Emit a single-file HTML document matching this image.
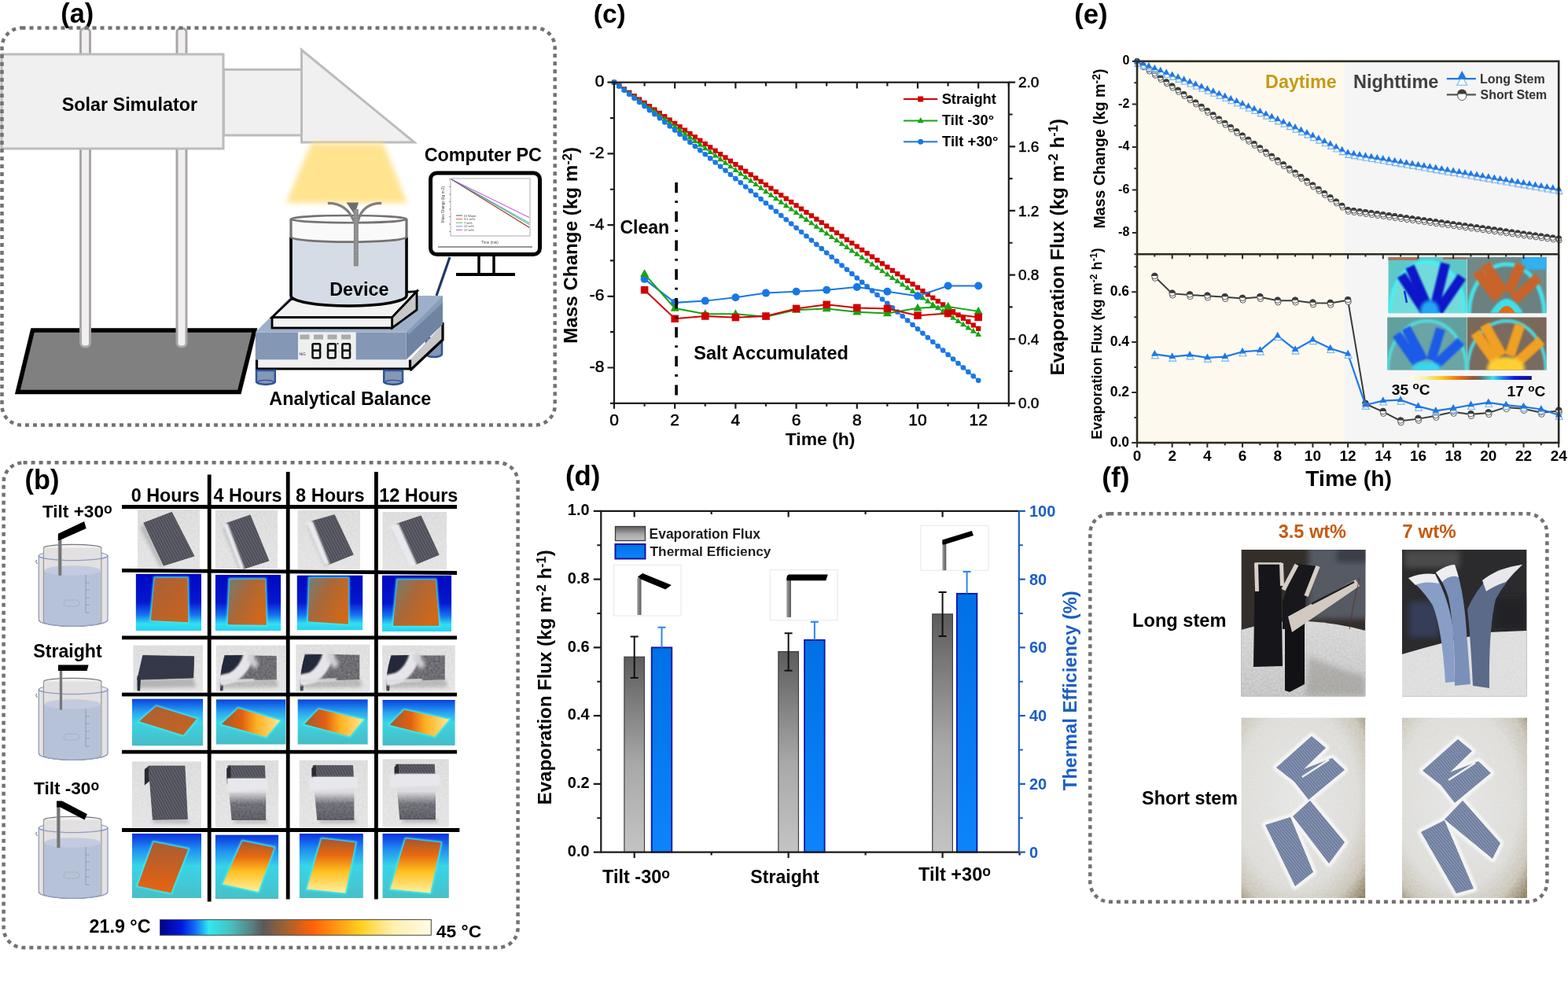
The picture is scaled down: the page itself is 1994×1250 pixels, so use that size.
<!DOCTYPE html>
<html><head><meta charset="utf-8"><title>Figure</title>
<style>html,body{margin:0;padding:0;background:#fff;} svg{display:block;} text{font-family:'Liberation Sans', Arial, sans-serif;}</style>
</head><body>
<svg width="1994" height="1250" viewBox="0 0 1994 1250">
<rect width="1994" height="1250" fill="#fff"/>
<defs>
<filter id="blur4" x="-20%" y="-20%" width="140%" height="140%"><feGaussianBlur stdDeviation="3.5"/></filter>
<filter id="blur1" x="-50%" y="-50%" width="200%" height="200%"><feGaussianBlur stdDeviation="1"/></filter>
<filter id="blur2" x="-50%" y="-50%" width="200%" height="200%"><feGaussianBlur stdDeviation="2"/></filter>

<linearGradient id="gbar" x1="0" y1="0" x2="0" y2="1"><stop offset="0" stop-color="#5c5c5c"/><stop offset="0.55" stop-color="#a8a8a8"/><stop offset="1" stop-color="#c4c4c4"/></linearGradient>
<linearGradient id="bbar" x1="0" y1="0" x2="0" y2="1"><stop offset="0" stop-color="#0070e6"/><stop offset="1" stop-color="#0d84fa"/></linearGradient>
<linearGradient id="stem" x1="0" y1="0" x2="1" y2="0"><stop offset="0" stop-color="#a0a0a0"/><stop offset="1" stop-color="#5a5a5a"/></linearGradient>

<linearGradient id="cbar2" x1="0" y1="0" x2="1" y2="0">
<stop offset="0" stop-color="#fffbe0"/><stop offset="0.12" stop-color="#faf0b0"/><stop offset="0.25" stop-color="#f8d020"/><stop offset="0.4" stop-color="#f07010"/>
<stop offset="0.52" stop-color="#905840"/><stop offset="0.58" stop-color="#607070"/><stop offset="0.68" stop-color="#40e4ec"/><stop offset="0.76" stop-color="#2080f0"/>
<stop offset="0.86" stop-color="#0a18e8"/><stop offset="1" stop-color="#101080"/></linearGradient>

<linearGradient id="foam" x1="0" y1="0" x2="0" y2="1"><stop offset="0" stop-color="#d9d9d9"/><stop offset="1" stop-color="#e2e2e2"/></linearGradient>
<filter id="noise" x="0" y="0" width="100%" height="100%"><feTurbulence type="fractalNoise" baseFrequency="0.35" numOctaves="2" seed="3"/><feColorMatrix type="matrix" values="0 0 0 0 0.85  0 0 0 0 0.85  0 0 0 0 0.86  0 0 0 -1.6 1.25"/></filter>
<pattern id="stripes" width="3.2" height="10" patternUnits="userSpaceOnUse" patternTransform="rotate(-28)"><rect width="3.2" height="10" fill="#4e4e58"/><rect width="1" height="10" fill="#6a6a74"/></pattern>
<linearGradient id="tb1" x1="0" y1="0" x2="0" y2="1"><stop offset="0" stop-color="#0008c0"/><stop offset="0.5" stop-color="#0418d0"/><stop offset="0.72" stop-color="#1870f0"/><stop offset="0.88" stop-color="#30e0f0"/><stop offset="1" stop-color="#2ad0f0"/></linearGradient>
<linearGradient id="tb2" x1="0" y1="0" x2="0" y2="1"><stop offset="0" stop-color="#0a40e0"/><stop offset="0.3" stop-color="#2aa8f0"/><stop offset="0.5" stop-color="#3cd4e4"/><stop offset="1" stop-color="#46bcc6"/></linearGradient>
<linearGradient id="tb3" x1="0" y1="0" x2="0" y2="1"><stop offset="0" stop-color="#0a30e0"/><stop offset="0.25" stop-color="#2090f0"/><stop offset="0.5" stop-color="#38d4e8"/><stop offset="1" stop-color="#48c0c8"/></linearGradient>
<linearGradient id="or1" x1="0" y1="0" x2="1" y2="1"><stop offset="0" stop-color="#a86038"/><stop offset="1" stop-color="#c8641e"/></linearGradient>
<linearGradient id="or2" x1="0" y1="0" x2="1" y2="0.6"><stop offset="0" stop-color="#708078"/><stop offset="0.45" stop-color="#a8683a"/><stop offset="1" stop-color="#d06818"/></linearGradient>
<linearGradient id="or3" x1="0" y1="0" x2="1" y2="0"><stop offset="0" stop-color="#a05a30"/><stop offset="0.35" stop-color="#e06010"/><stop offset="0.6" stop-color="#ffb020"/><stop offset="1" stop-color="#ffe890"/></linearGradient>
<linearGradient id="or4" x1="0" y1="0" x2="0" y2="1"><stop offset="0" stop-color="#a85c34"/><stop offset="1" stop-color="#e86410"/></linearGradient>
<linearGradient id="or5" x1="0" y1="0" x2="0" y2="1"><stop offset="0" stop-color="#a05830"/><stop offset="0.3" stop-color="#e86810"/><stop offset="0.6" stop-color="#ffc020"/><stop offset="1" stop-color="#fff0a0"/></linearGradient>
<linearGradient id="stem2" x1="0" y1="0" x2="1" y2="0"><stop offset="0" stop-color="#9a9a9a"/><stop offset="0.5" stop-color="#6a6a6a"/><stop offset="1" stop-color="#8a8a8a"/></linearGradient>
<linearGradient id="cbar1" x1="0" y1="0" x2="1" y2="0">
<stop offset="0" stop-color="#00008c"/><stop offset="0.08" stop-color="#0018e0"/><stop offset="0.13" stop-color="#1070f8"/><stop offset="0.18" stop-color="#30e8f0"/><stop offset="0.26" stop-color="#48c0c0"/>
<stop offset="0.34" stop-color="#5a8080"/><stop offset="0.38" stop-color="#5a5a5a"/><stop offset="0.46" stop-color="#a06030"/><stop offset="0.56" stop-color="#ff6008"/><stop offset="0.64" stop-color="#ff9010"/>
<stop offset="0.74" stop-color="#ffd020"/><stop offset="0.86" stop-color="#fff0b0"/><stop offset="1" stop-color="#fffbe4"/></linearGradient>

<linearGradient id="foamf" x1="0" y1="0" x2="0" y2="1"><stop offset="0" stop-color="#d4d4d4"/><stop offset="1" stop-color="#bdbdbd"/></linearGradient>
<radialGradient id="vign" cx="0.45" cy="0.45" r="0.75"><stop offset="0" stop-color="#e6e6e4"/><stop offset="0.65" stop-color="#dddcd8"/><stop offset="0.85" stop-color="#c8c2b4"/><stop offset="1" stop-color="#8a7a5a"/></radialGradient>
<pattern id="bstripe" width="3" height="10" patternUnits="userSpaceOnUse" patternTransform="rotate(-40)"><rect width="3" height="10" fill="#6e7c9c"/><rect width="1.1" height="10" fill="#8c9ab8"/></pattern>

<filter id="noise2" x="0" y="0" width="100%" height="100%"><feTurbulence type="fractalNoise" baseFrequency="0.35" numOctaves="2" seed="5"/><feColorMatrix type="matrix" values="0 0 0 0 0.85  0 0 0 0 0.85  0 0 0 0 0.86  0 0 0 -1.6 1.25"/><feComposite in2="SourceGraphic" operator="in"/></filter>
<linearGradient id="saltgrad1" x1="0" y1="0" x2="0" y2="1"><stop offset="0" stop-color="#e6e6ea"/><stop offset="0.32" stop-color="#dcdce0"/><stop offset="0.6" stop-color="#66666e"/><stop offset="1" stop-color="#505058"/></linearGradient><linearGradient id="saltgrad2" x1="0" y1="0" x2="0" y2="1"><stop offset="0" stop-color="#e6e6ea"/><stop offset="0.35" stop-color="#dcdce0"/><stop offset="0.62" stop-color="#66666e"/><stop offset="1" stop-color="#505058"/></linearGradient><linearGradient id="saltgrad3" x1="0" y1="0" x2="0" y2="1"><stop offset="0" stop-color="#e6e6ea"/><stop offset="0.38" stop-color="#dcdce0"/><stop offset="0.66" stop-color="#66666e"/><stop offset="1" stop-color="#505058"/></linearGradient></defs>
<text x="77.28" y="28.80" font-size="34.31" font-weight="bold" fill="#000" >(a)</text>
<polygon points="41.5,420 323.8,420 304.3,498.6 22.4,498.6" fill="#808080" stroke="#000" stroke-width="5.5" stroke-linejoin="miter"/>
<rect x="102.5" y="36" width="12" height="405" rx="5" fill="#f0f0f0" stroke="#aaa6a4" stroke-width="3"/>
<rect x="225.0" y="36" width="12" height="405" rx="5" fill="#f0f0f0" stroke="#aaa6a4" stroke-width="3"/>
<rect x="2" y="69" width="282" height="120" fill="#f0f0f0" stroke="#bcbcbc" stroke-width="3"/>
<rect x="284.5" y="88.5" width="99" height="83.5" fill="#f0f0f0" stroke="#bcbcbc" stroke-width="3"/>
<polygon points="383.5,63.5 383.5,181 527,181" fill="#f0f0f0" stroke="#bcbcbc" stroke-width="3" stroke-linejoin="miter"/>
<text x="78.80" y="140.60" font-size="23.32" font-weight="bold" fill="#000" >Solar Simulator</text>
<polygon points="396,182 487,182 518,258 364,258" fill="#ffe38f" filter="url(#blur4)"/>
<line x1="572" y1="327" x2="555" y2="376" stroke="#1f3864" stroke-width="3.2"/>
<rect x="547.5" y="220" width="139" height="103.5" rx="8" fill="#fff" stroke="#000" stroke-width="5"/>
<line x1="609" y1="326" x2="609" y2="347" stroke="#000" stroke-width="3.5"/>
<line x1="628" y1="326" x2="628" y2="347" stroke="#000" stroke-width="3.5"/>
<line x1="580" y1="349" x2="655" y2="349" stroke="#000" stroke-width="4"/>
<rect x="573" y="227" width="101" height="73" fill="#fff" stroke="#9a9a9a" stroke-width="0.8"/>
<line x1="557" y1="314" x2="677" y2="314" stroke="#333" stroke-width="1"/>
<line x1="574" y1="228" x2="673" y2="289" stroke="#333" stroke-width="0.9"/>
<line x1="574" y1="228" x2="673" y2="289.5" stroke="#e03030" stroke-width="0.9"/>
<line x1="574" y1="228" x2="673" y2="285.5" stroke="#20b030" stroke-width="0.9"/>
<line x1="574" y1="228" x2="673" y2="283.5" stroke="#2a8ad8" stroke-width="0.9"/>
<line x1="574" y1="228" x2="673" y2="276.5" stroke="#c030c0" stroke-width="0.9"/>
<line x1="571" y1="228.0" x2="573" y2="228.0" stroke="#555" stroke-width="0.6"/>
<line x1="571" y1="237.5" x2="573" y2="237.5" stroke="#555" stroke-width="0.6"/>
<line x1="571" y1="247.0" x2="573" y2="247.0" stroke="#555" stroke-width="0.6"/>
<line x1="571" y1="256.5" x2="573" y2="256.5" stroke="#555" stroke-width="0.6"/>
<line x1="571" y1="266.0" x2="573" y2="266.0" stroke="#555" stroke-width="0.6"/>
<line x1="571" y1="275.5" x2="573" y2="275.5" stroke="#555" stroke-width="0.6"/>
<line x1="571" y1="285.0" x2="573" y2="285.0" stroke="#555" stroke-width="0.6"/>
<line x1="571" y1="294.5" x2="573" y2="294.5" stroke="#555" stroke-width="0.6"/>
<text x="569" y="264" font-size="4.5" fill="#444" transform="rotate(-90 565 264)" text-anchor="middle">Mass Change (kg m-2)</text>
<text x="623" y="310" font-size="4.5" fill="#444" text-anchor="middle">Time (min)</text>
<line x1="580" y1="274.0" x2="588" y2="274.0" stroke="#333" stroke-width="0.8"/>
<text x="590" y="275.5" font-size="4" fill="#444">DI Water</text>
<line x1="580" y1="278.6" x2="588" y2="278.6" stroke="#e03030" stroke-width="0.8"/>
<text x="590" y="280.1" font-size="4" fill="#444">3.5 wt%</text>
<line x1="580" y1="283.2" x2="588" y2="283.2" stroke="#20b030" stroke-width="0.8"/>
<text x="590" y="284.7" font-size="4" fill="#444">7 wt%</text>
<line x1="580" y1="287.8" x2="588" y2="287.8" stroke="#2a8ad8" stroke-width="0.8"/>
<text x="590" y="289.3" font-size="4" fill="#444">12 wt%</text>
<line x1="580" y1="292.4" x2="588" y2="292.4" stroke="#c030c0" stroke-width="0.8"/>
<text x="590" y="293.9" font-size="4" fill="#444">17 wt%</text>
<text x="539.66" y="204.80" font-size="23.39" font-weight="bold" fill="#000" >Computer PC</text>
<path d="M542,430 L542,450 A10,4 0 0 0 562,450 L562,430 Z" fill="#8497b5" stroke="#2f5597" stroke-width="2.5"/>
<polygon points="521.5,457.6 563,412.6 563,432 521.5,471" fill="#c8c8c8"/>
<polyline points="563,410 563,432 521.5,471" fill="none" stroke="#000" stroke-width="3.2"/>
<polygon points="324.8,422.6 370.8,376 563,376 516.6,422.6" fill="#9eb0c9"/>
<polygon points="516.6,422.6 563,376 563,412.6 516.6,457.6" fill="#6f84a3"/>
<polygon points="516.6,422.6 563,376 563,385 520,425" fill="#94a8c4" opacity="0.7"/>
<rect x="324.8" y="422.6" width="191.8" height="35" fill="#8497b5"/>
<path d="M326.5,457.6 L326.5,469 L521.5,469 L521.5,457.6" fill="#f0f0f0" stroke="#000" stroke-width="3.2"/>
<path d="M326.0,471 L326.0,486 A12.5,4.2 0 0 0 349.8,486 L349.8,471 Z" fill="#8497b5" stroke="#2f5597" stroke-width="2.5"/>
<ellipse cx="337.90000000000003" cy="486" rx="10" ry="2.6" fill="none" stroke="#2f5597" stroke-width="1.2"/>
<path d="M488.2,471 L488.2,486 A12.5,4.2 0 0 0 512,486 L512,471 Z" fill="#8497b5" stroke="#2f5597" stroke-width="2.5"/>
<ellipse cx="500.1" cy="486" rx="10" ry="2.6" fill="none" stroke="#2f5597" stroke-width="1.2"/>
<rect x="379" y="422.4" width="73.7" height="36" fill="#eef0ef"/>
<rect x="397.5" y="437.2" width="9.6" height="8.6" rx="1.5" fill="none" stroke="#111" stroke-width="2.6"/>
<rect x="397.5" y="445.8" width="9.6" height="9.4" rx="1.5" fill="none" stroke="#111" stroke-width="2.6"/>
<rect x="417.0" y="437.2" width="9.6" height="8.6" rx="1.5" fill="none" stroke="#111" stroke-width="2.6"/>
<rect x="417.0" y="445.8" width="9.6" height="9.4" rx="1.5" fill="none" stroke="#111" stroke-width="2.6"/>
<rect x="435.4" y="437.2" width="9.6" height="8.6" rx="1.5" fill="none" stroke="#111" stroke-width="2.6"/>
<rect x="435.4" y="445.8" width="9.6" height="9.4" rx="1.5" fill="none" stroke="#111" stroke-width="2.6"/>
<circle cx="429.5" cy="437" r="1" fill="#111"/>
<rect x="381.5" y="425.5" width="12" height="6" fill="#a8acab"/>
<rect x="399.0" y="425.5" width="12" height="6" fill="#a8acab"/>
<rect x="416.5" y="425.5" width="12" height="6" fill="#a8acab"/>
<rect x="434.0" y="425.5" width="12" height="6" fill="#a8acab"/>
<text x="380.5" y="452" font-size="4.5" fill="#333">hkG</text>
<polygon points="370,380.5 530,370.5 498.6,403.6 346,403.6" fill="#f2f2f2" stroke="#000" stroke-width="2.8" stroke-linejoin="miter"/>
<polygon points="498.6,403.6 530,370.5 530,394 498.6,417" fill="#c8c8c8" stroke="#000" stroke-width="2.8"/>
<rect x="346" y="403.6" width="152.6" height="13.4" fill="#f2f2f2" stroke="#000" stroke-width="2.8"/>
<path d="M370,278.5 L370,376 A73.5,13 0 0 0 517,376 L517,278.5 Z" fill="#d6dce5"/>
<path d="M370,278.5 L370,301.6 A73.5,6 0 0 0 517,301.6 L517,278.5 Z" fill="#fafafa"/>
<path d="M370,301.6 L370,376 A73.5,13 0 0 0 517,376 L517,301.6" fill="none" stroke="#000" stroke-width="3.6"/>
<path d="M370,301.6 L370,278.5 M517,278.5 L517,301.6" fill="none" stroke="#767171" stroke-width="3.2"/>
<path d="M370,301.6 A73.5,6 0 0 0 517,301.6" fill="none" stroke="#767171" stroke-width="2.6"/>
<ellipse cx="443.5" cy="278.6" rx="73.5" ry="4.6" fill="none" stroke="#767171" stroke-width="2.6"/>
<path d="M416.8,258.4 Q440,258 449.5,280 L455.5,280 Q462,258 485.2,258.4" fill="none" stroke="#7f7f7f" stroke-width="3.2"/>
<polygon points="440.5,257.5 456,257.5 451,273" fill="#6d6d6d"/>
<rect x="449.8" y="266" width="6" height="72.5" fill="#8a8a8a"/>
<line x1="452.8" y1="268" x2="452.8" y2="337" stroke="#a8a8a8" stroke-width="1.2" stroke-dasharray="2 1.5"/>
<text x="419.29" y="375.50" font-size="23.30" font-weight="bold" fill="#000" >Device</text>
<text x="342.32" y="514.50" font-size="23.32" font-weight="bold" fill="#000" >Analytical Balance</text>
<rect x="2.5" y="35.5" width="703.2" height="505.0" rx="25" ry="25" fill="none" stroke="#767171" stroke-width="4.5" stroke-dasharray="5 5"/>
<text x="31.58" y="622.47" font-size="34.32" font-weight="bold" fill="#000" >(b)</text>
<text x="166.66" y="637.90" font-size="23.38" font-weight="bold" fill="#000" >0 Hours</text>
<text x="271.55" y="637.90" font-size="23.38" font-weight="bold" fill="#000" >4 Hours</text>
<text x="376.09" y="637.90" font-size="23.51" font-weight="bold" fill="#000" >8 Hours</text>
<text x="482.19" y="637.90" font-size="23.42" font-weight="bold" fill="#000" >12 Hours</text>
<clipPath id="cb1"><rect x="174.9" y="647.6" width="79.20" height="75.30"/></clipPath><g clip-path="url(#cb1)"><rect x="174.9" y="647.6" width="79.20" height="75.30" fill="url(#foam)"/><rect x="174.9" y="647.6" width="79.20" height="75.30" fill="#d6d6d6" filter="url(#noise)" opacity="0.55"/><polygon points="178.86,672.45 204.20,721.39 208.16,719.13 182.82,664.92" fill="#b4b4b4" filter="url(#blur2)"/><polygon points="182.82,664.92 218.46,651.37 246.97,707.09 208.16,719.13" fill="url(#stripes)" stroke="#4a4a52" stroke-width="0.8"/></g>
<clipPath id="cb2"><rect x="273.7" y="649" width="79.40" height="74.50"/></clipPath><g clip-path="url(#cb2)"><rect x="273.7" y="649" width="79.40" height="74.50" fill="url(#foam)"/><rect x="273.7" y="649" width="79.40" height="74.50" fill="#d6d6d6" filter="url(#noise)" opacity="0.55"/><polygon points="284.02,672.84 305.46,725.74 309.43,723.50 287.99,665.39" fill="#b4b4b4" filter="url(#blur2)"/><polygon points="287.99,665.39 318.16,654.96 341.98,713.07 309.43,723.50" fill="url(#stripes)" stroke="#4a4a52" stroke-width="0.8"/><polygon points="284.02,666.88 289.58,665.39 311.02,723.50 305.46,723.50" fill="#e8eaee" filter="url(#blur1)"/></g>
<clipPath id="cb3"><rect x="378.4" y="648.6" width="79.60" height="75.40"/></clipPath><g clip-path="url(#cb3)"><rect x="378.4" y="648.6" width="79.60" height="75.40" fill="url(#foam)"/><rect x="378.4" y="648.6" width="79.60" height="75.40" fill="#d6d6d6" filter="url(#noise)" opacity="0.55"/><polygon points="391.93,670.47 413.42,720.23 417.40,717.97 395.91,662.93" fill="#b4b4b4" filter="url(#blur2)"/><polygon points="395.91,662.93 425.36,654.63 449.24,705.15 417.40,717.97" fill="url(#stripes)" stroke="#4a4a52" stroke-width="0.8"/><polygon points="389.54,664.43 397.50,662.17 419.79,718.72 411.83,716.46" fill="#e8eaee" filter="url(#blur1)"/></g>
<clipPath id="cb4"><rect x="486.3" y="650.8" width="81.70" height="73.80"/></clipPath><g clip-path="url(#cb4)"><rect x="486.3" y="650.8" width="81.70" height="73.80" fill="url(#foam)"/><rect x="486.3" y="650.8" width="81.70" height="73.80" fill="#d6d6d6" filter="url(#noise)" opacity="0.55"/><polygon points="500.19,673.68 523.88,720.17 527.97,717.96 504.27,666.30" fill="#b4b4b4" filter="url(#blur2)"/><polygon points="504.27,666.30 535.32,655.97 558.20,705.41 527.97,717.96" fill="url(#stripes)" stroke="#4a4a52" stroke-width="0.8"/><polygon points="496.10,668.51 506.73,665.56 530.42,718.70 521.43,721.65" fill="#e8eaee" filter="url(#blur1)"/></g>
<clipPath id="cb5"><rect x="172.6" y="729.6" width="83.40" height="72.40"/></clipPath><g clip-path="url(#cb5)"><rect x="172.6" y="729.6" width="83.40" height="72.40" fill="url(#tb1)"/><polygon points="196.79,734.67 238.49,734.67 239.32,791.14 191.78,788.97" fill="none" stroke="#40f0f0" stroke-width="3" filter="url(#blur1)"/><polygon points="196.79,734.67 238.49,734.67 239.32,791.14 191.78,788.97" fill="url(#or1)"/></g>
<clipPath id="cb6"><rect x="273.7" y="730.7" width="83.50" height="71.30"/></clipPath><g clip-path="url(#cb6)"><rect x="273.7" y="730.7" width="83.50" height="71.30" fill="url(#tb1)"/><polygon points="292.07,736.40 337.16,736.40 338.83,794.87 289.56,794.16" fill="none" stroke="#40f0f0" stroke-width="3" filter="url(#blur1)"/><polygon points="292.07,736.40 337.16,736.40 338.83,794.87 289.56,794.16" fill="url(#or2)"/></g>
<clipPath id="cb7"><rect x="377.5" y="731.4" width="83.90" height="70.00"/></clipPath><g clip-path="url(#cb7)"><rect x="377.5" y="731.4" width="83.90" height="70.00" fill="url(#tb1)"/><polygon points="393.44,734.90 442.94,734.90 442.94,793.70 391.76,790.20" fill="none" stroke="#40f0f0" stroke-width="3" filter="url(#blur1)"/><polygon points="393.44,734.90 442.94,734.90 442.94,793.70 391.76,790.20" fill="url(#or2)"/></g>
<clipPath id="cb8"><rect x="485.8" y="731.4" width="88.50" height="71.60"/></clipPath><g clip-path="url(#cb8)"><rect x="485.8" y="731.4" width="88.50" height="71.60" fill="url(#tb1)"/><polygon points="505.27,737.13 553.94,737.13 558.37,795.84 499.96,795.84" fill="none" stroke="#40f0f0" stroke-width="3" filter="url(#blur1)"/><polygon points="505.27,737.13 553.94,737.13 558.37,795.84 499.96,795.84" fill="url(#or2)"/></g>
<clipPath id="cb9"><rect x="169.2" y="820.5" width="89.10" height="59.20"/></clipPath><g clip-path="url(#cb9)"><rect x="169.2" y="820.5" width="89.10" height="59.20" fill="url(#foam)"/><rect x="169.2" y="820.5" width="89.10" height="59.20" fill="#d6d6d6" filter="url(#noise)" opacity="0.55"/><polygon points="174.55,864.31 245.83,861.94 249.39,873.78 174.55,874.96" fill="#b4b4b4" filter="url(#blur2)"/><polygon points="181.67,833.52 246.72,834.71 245.83,861.94 174.55,864.31" fill="url(#stripes)" stroke="#4a4a52" stroke-width="0.8"/><polygon points="174.55,859.57 179.00,861.94 178.11,878.52 174.55,878.52" fill="#2a2c36"/><polygon points="181.67,833.52 246.72,834.71 245.83,861.94 174.55,864.31" fill="#2e3244" opacity="0.85"/></g>
<clipPath id="cb10"><rect x="274.6" y="820.5" width="88.70" height="59.20"/></clipPath><g clip-path="url(#cb10)"><rect x="274.6" y="820.5" width="88.70" height="59.20" fill="url(#foam)"/><rect x="274.6" y="820.5" width="88.70" height="59.20" fill="#d6d6d6" filter="url(#noise)" opacity="0.55"/><polygon points="279.92,864.31 350.88,861.94 354.43,873.78 279.92,874.96" fill="#b4b4b4" filter="url(#blur2)"/><polygon points="274.60,820.50 274.60,820.50 274.60,820.50" fill="url(#stripes)" stroke="#4a4a52" stroke-width="0.8"/><polygon points="279.92,859.57 284.36,861.94 283.47,878.52 279.92,878.52" fill="#2a2c36"/><polygon points="285.24,832.93 351.77,834.12 351.77,864.31 279.04,865.49" fill="#5e5e64"/><rect x="274.6" y="820.5" width="88.70" height="59.20" fill="#888" filter="url(#noise)" opacity="0.25"/><path d="M286.13,833.52 L310.97,832.93 Q307.42,850.10 294.11,859.57 L279.92,864.31 Q281.70,844.18 286.13,833.52 Z" fill="#23283a"/><path d="M316.29,832.34 Q310.97,853.06 294.11,861.94 L279.04,865.49" fill="none" stroke="#e6e6ea" stroke-width="13.30" filter="url(#blur1)"/><path d="M318.06,832.34 Q321.61,844.18 326.93,847.14" fill="none" stroke="#d0d0d4" stroke-width="8.87" filter="url(#blur2)"/><path d="M279.04,866.68 L323.38,864.31" stroke="#dcdce0" stroke-width="3.5" filter="url(#blur1)"/></g>
<clipPath id="cb11"><rect x="376.1" y="819.4" width="94.40" height="60.30"/></clipPath><g clip-path="url(#cb11)"><rect x="376.1" y="819.4" width="94.40" height="60.30" fill="url(#foam)"/><rect x="376.1" y="819.4" width="94.40" height="60.30" fill="#d6d6d6" filter="url(#noise)" opacity="0.55"/><polygon points="381.76,864.02 457.28,861.61 461.06,873.67 381.76,874.88" fill="#b4b4b4" filter="url(#blur2)"/><polygon points="376.10,819.40 376.10,819.40 376.10,819.40" fill="url(#stripes)" stroke="#4a4a52" stroke-width="0.8"/><polygon points="381.76,859.20 386.48,861.61 385.54,878.49 381.76,878.49" fill="#2a2c36"/><polygon points="387.43,831.46 457.28,832.67 457.28,864.02 380.82,866.43" fill="#5e5e64"/><rect x="376.1" y="819.4" width="94.40" height="60.30" fill="#888" filter="url(#noise)" opacity="0.25"/><path d="M388.37,832.67 L411.97,832.06 Q408.20,849.55 396.87,859.20 L381.76,864.02 Q383.65,843.52 388.37,832.67 Z" fill="#23283a"/><path d="M417.64,831.46 Q411.97,852.57 396.87,861.61 L380.82,865.23" fill="none" stroke="#e6e6ea" stroke-width="14.16" filter="url(#blur1)"/><path d="M419.52,831.46 Q423.30,843.52 428.96,846.53" fill="none" stroke="#d0d0d4" stroke-width="9.44" filter="url(#blur2)"/><path d="M380.82,866.43 L428.02,864.02" stroke="#dcdce0" stroke-width="3.5" filter="url(#blur1)"/></g>
<clipPath id="cb12"><rect x="485.8" y="820.5" width="93.00" height="59.20"/></clipPath><g clip-path="url(#cb12)"><rect x="485.8" y="820.5" width="93.00" height="59.20" fill="url(#foam)"/><rect x="485.8" y="820.5" width="93.00" height="59.20" fill="#d6d6d6" filter="url(#noise)" opacity="0.55"/><polygon points="491.38,864.31 565.78,861.94 569.50,873.78 491.38,874.96" fill="#b4b4b4" filter="url(#blur2)"/><polygon points="485.80,820.50 485.80,820.50 485.80,820.50" fill="url(#stripes)" stroke="#4a4a52" stroke-width="0.8"/><polygon points="491.38,859.57 496.03,861.94 495.10,878.52 491.38,878.52" fill="#2a2c36"/><polygon points="496.96,833.52 565.78,833.52 565.78,864.31 490.45,866.68" fill="#5e5e64"/><rect x="485.8" y="820.5" width="93.00" height="59.20" fill="#888" filter="url(#noise)" opacity="0.25"/><path d="M497.89,833.52 L522.07,832.93 Q518.35,850.10 506.26,859.57 L491.38,864.31 Q493.24,844.18 497.89,833.52 Z" fill="#23283a"/><path d="M527.65,832.34 Q522.07,853.06 506.26,861.94 L490.45,865.49" fill="none" stroke="#e6e6ea" stroke-width="13.95" filter="url(#blur1)"/><path d="M529.51,832.34 Q533.23,844.18 538.81,847.14" fill="none" stroke="#d0d0d4" stroke-width="9.30" filter="url(#blur2)"/><path d="M490.45,866.68 L536.95,864.31" stroke="#dcdce0" stroke-width="3.5" filter="url(#blur1)"/></g>
<clipPath id="cb13"><rect x="168" y="888.5" width="90.30" height="60.00"/></clipPath><g clip-path="url(#cb13)"><rect x="168" y="888.5" width="90.30" height="60.00" fill="url(#tb2)"/><polygon points="198.70,898.10 250.17,914.30 233.02,934.70 177.03,917.30" fill="none" stroke="#40f0f0" stroke-width="3" filter="url(#blur1)"/><polygon points="198.70,898.10 250.17,914.30 233.02,934.70 177.03,917.30" fill="url(#or1)"/></g>
<clipPath id="cb14"><rect x="274.6" y="889.2" width="88.70" height="57.50"/></clipPath><g clip-path="url(#cb14)"><rect x="274.6" y="889.2" width="88.70" height="57.50" fill="url(#tb2)"/><polygon points="302.98,900.70 356.20,916.23 338.46,936.93 281.70,920.83" fill="none" stroke="#40f0f0" stroke-width="3" filter="url(#blur1)"/><polygon points="302.98,900.70 356.20,916.23 338.46,936.93 281.70,920.83" fill="url(#or3)"/></g>
<clipPath id="cb15"><rect x="378.4" y="889.2" width="89.40" height="57.50"/></clipPath><g clip-path="url(#cb15)"><rect x="378.4" y="889.2" width="89.40" height="57.50" fill="url(#tb2)"/><polygon points="405.22,901.85 462.44,915.08 444.56,936.35 387.34,920.83" fill="none" stroke="#40f0f0" stroke-width="3" filter="url(#blur1)"/><polygon points="405.22,901.85 462.44,915.08 444.56,936.35 387.34,920.83" fill="url(#or3)"/></g>
<clipPath id="cb16"><rect x="486.3" y="889.9" width="92.50" height="58.00"/></clipPath><g clip-path="url(#cb16)"><rect x="486.3" y="889.9" width="92.50" height="58.00" fill="url(#tb2)"/><polygon points="514.05,902.66 571.40,914.84 552.90,936.30 495.55,921.80" fill="none" stroke="#40f0f0" stroke-width="3" filter="url(#blur1)"/><polygon points="514.05,902.66 571.40,914.84 552.90,936.30 495.55,921.80" fill="url(#or3)"/></g>
<clipPath id="cb17"><rect x="168" y="968.2" width="88.00" height="84.20"/></clipPath><g clip-path="url(#cb17)"><rect x="168" y="968.2" width="88.00" height="84.20" fill="url(#foam)"/><rect x="168" y="968.2" width="88.00" height="84.20" fill="#d6d6d6" filter="url(#noise)" opacity="0.55"/><polygon points="194.40,1042.30 238.40,1041.45 241.92,1046.51 194.40,1046.51" fill="#b4b4b4" filter="url(#blur2)"/><polygon points="189.12,974.09 234.88,974.09 238.40,1041.45 194.40,1042.30" fill="url(#stripes)" stroke="#4a4a52" stroke-width="0.8"/><polygon points="183.84,978.30 189.12,974.09 190.00,993.46 183.84,998.51" fill="#2a2a30"/></g>
<clipPath id="cb18"><rect x="273.7" y="967" width="80.50" height="85.40"/></clipPath><g clip-path="url(#cb18)"><rect x="273.7" y="967" width="80.50" height="85.40" fill="url(#foam)"/><rect x="273.7" y="967" width="80.50" height="85.40" fill="#d6d6d6" filter="url(#noise)" opacity="0.55"/><polygon points="297.85,1042.15 338.10,1041.30 341.32,1046.42 297.85,1046.42" fill="#b4b4b4" filter="url(#blur2)"/><polygon points="289.80,973.83 336.49,973.83 337.30,991.77 289.80,991.77" fill="url(#stripes)" stroke="#4a4a52" stroke-width="0.8"/><polygon points="288.19,977.25 293.02,972.98 293.82,992.62 288.19,997.74" fill="#2a2a30"/><polygon points="289.80,990.06 338.10,990.06 338.10,1043.01 294.63,1043.01" fill="url(#saltgrad1)"/><rect x="273.7" y="1011.41" width="80.50" height="34.16" fill="#999" filter="url(#noise)" opacity="0.2"/><polygon points="288.19,990.06 339.71,990.06 341.32,1003.72 288.19,1007.14" fill="#e8e8ec" filter="url(#blur1)"/></g>
<clipPath id="cb19"><rect x="380.6" y="966.6" width="87.20" height="85.80"/></clipPath><g clip-path="url(#cb19)"><rect x="380.6" y="966.6" width="87.20" height="85.80" fill="url(#foam)"/><rect x="380.6" y="966.6" width="87.20" height="85.80" fill="#d6d6d6" filter="url(#noise)" opacity="0.55"/><polygon points="406.76,1042.10 450.36,1041.25 453.85,1046.39 406.76,1046.39" fill="#b4b4b4" filter="url(#blur2)"/><polygon points="398.04,973.46 448.62,973.46 449.49,989.77 398.04,989.77" fill="url(#stripes)" stroke="#4a4a52" stroke-width="0.8"/><polygon points="396.30,976.90 401.53,972.61 402.40,992.34 396.30,997.49" fill="#2a2a30"/><polygon points="398.04,988.05 450.36,988.05 450.36,1042.96 403.27,1042.96" fill="url(#saltgrad2)"/><rect x="380.6" y="1009.50" width="87.20" height="34.32" fill="#999" filter="url(#noise)" opacity="0.2"/><polygon points="392.81,988.05 453.85,988.05 455.59,1001.78 392.81,1005.21" fill="#e8e8ec" filter="url(#blur1)"/></g>
<clipPath id="cb20"><rect x="486.3" y="965.2" width="84.60" height="86.50"/></clipPath><g clip-path="url(#cb20)"><rect x="486.3" y="965.2" width="84.60" height="86.50" fill="url(#foam)"/><rect x="486.3" y="965.2" width="84.60" height="86.50" fill="#d6d6d6" filter="url(#noise)" opacity="0.55"/><polygon points="511.68,1041.32 553.98,1040.45 557.36,1045.64 511.68,1045.64" fill="#b4b4b4" filter="url(#blur2)"/><polygon points="503.22,972.12 552.29,972.12 553.13,985.96 503.22,985.96" fill="url(#stripes)" stroke="#4a4a52" stroke-width="0.8"/><polygon points="501.53,975.58 506.60,971.25 507.45,991.15 501.53,996.34" fill="#2a2a30"/><polygon points="503.22,984.23 553.98,984.23 553.98,1042.18 508.30,1042.18" fill="url(#saltgrad3)"/><rect x="486.3" y="1005.86" width="84.60" height="34.60" fill="#999" filter="url(#noise)" opacity="0.2"/><polygon points="495.61,984.23 558.63,984.23 560.33,998.07 495.61,1001.53" fill="#e8e8ec" filter="url(#blur1)"/></g>
<clipPath id="cb21"><rect x="168" y="1060" width="88.00" height="82.00"/></clipPath><g clip-path="url(#cb21)"><rect x="168" y="1060" width="88.00" height="82.00" fill="url(#tb3)"/><polygon points="195.28,1070.66 239.28,1079.68 217.28,1135.44 175.04,1126.42" fill="none" stroke="#40f0f0" stroke-width="3" filter="url(#blur1)"/><polygon points="195.28,1070.66 239.28,1079.68 217.28,1135.44 175.04,1126.42" fill="url(#or4)"/></g>
<clipPath id="cb22"><rect x="273.7" y="1061.4" width="80.50" height="81.60"/></clipPath><g clip-path="url(#cb22)"><rect x="273.7" y="1061.4" width="80.50" height="81.60" fill="url(#tb3)"/><polygon points="308.31,1069.56 348.56,1077.72 328.44,1134.02 283.36,1124.23" fill="none" stroke="#40f0f0" stroke-width="3" filter="url(#blur1)"/><polygon points="308.31,1069.56 348.56,1077.72 328.44,1134.02 283.36,1124.23" fill="url(#or5)"/></g>
<clipPath id="cb23"><rect x="380.6" y="1060" width="81.30" height="82.00"/></clipPath><g clip-path="url(#cb23)"><rect x="380.6" y="1060" width="81.30" height="82.00" fill="url(#tb3)"/><polygon points="409.06,1066.56 452.14,1071.48 439.14,1135.44 390.36,1130.52" fill="none" stroke="#40f0f0" stroke-width="3" filter="url(#blur1)"/><polygon points="409.06,1066.56 452.14,1071.48 439.14,1135.44 390.36,1130.52" fill="url(#or5)"/></g>
<clipPath id="cb24"><rect x="486.3" y="1060" width="84.60" height="82.00"/></clipPath><g clip-path="url(#cb24)"><rect x="486.3" y="1060" width="84.60" height="82.00" fill="url(#tb3)"/><polygon points="515.91,1066.56 560.75,1071.48 547.21,1135.44 496.45,1130.52" fill="none" stroke="#40f0f0" stroke-width="3" filter="url(#blur1)"/><polygon points="515.91,1066.56 560.75,1071.48 547.21,1135.44 496.45,1130.52" fill="url(#or5)"/></g>
<path d="M266.2,603.4 V1146.5 M366.2,600 V1143.5 M478.4,600 V1143.5 M155,644.5 H581 M155,810.8 H581 M155,956.2 H581 M155,883.2 H581 M155,1055.5 H584.4" stroke="#000" stroke-width="4.8" fill="none"/>
<path d="M155,725.3 L581,728.5" stroke="#000" stroke-width="4.8" fill="none"/>
<text x="53.9" y="657.7" font-size="22.6" font-weight="bold">Tilt +30<tspan font-size="17.5" dy="-5.2">o</tspan></text>
<text x="42.31" y="836.30" font-size="23.13" font-weight="bold" fill="#000" >Straight</text>
<text x="43" y="1010" font-size="22.6" font-weight="bold">Tilt -30<tspan font-size="17.5" dy="-5.2">o</tspan></text>
<path d="M49.3,706.7 L49.3,788.3 A43.85,8 0 0 0 137,788.3 L137,706.7 Z" fill="#e4e2e2" stroke="#8e9cc2" stroke-width="1.3"/>
<ellipse cx="93.15" cy="706.7" rx="43.85" ry="6" fill="#ebebeb" stroke="#8e9cc2" stroke-width="1.3"/>
<ellipse cx="92.15" cy="696.8" rx="36.75" ry="4.4" fill="#f0f0f0" stroke="#777" stroke-width="1.2"/>
<path d="M55.4,696.8 L55.4,790 A36.75,6.5 0 0 0 128.9,790 L128.9,696.8" fill="#e2e0e0" stroke="#8a8a8a" stroke-width="1"/>
<path d="M56,725.5 L56,790 A36.2,6.5 0 0 0 128.4,790 L128.4,725.5 Z" fill="#b6c2d8"/>
<ellipse cx="92.2" cy="725.5" rx="36.2" ry="6.2" fill="#c4cbe0"/>
<path d="M49.3,706.7 A43.85,6 0 0 0 137,706.7" fill="none" stroke="#8e9cc2" stroke-width="1.3"/>
<path d="M49.3,788.3 A43.85,8 0 0 0 137,788.3" fill="none" stroke="#8e9cc2" stroke-width="1.3"/>
<path d="M46.5,712 q-2,3 1,5" fill="none" stroke="#666" stroke-width="1"/>
<path d="M109,731 V779 M109,741 h5 M109,750 h5 M109,760 h5 M109,769 h5 M109,779 h5" stroke="#8a93a8" stroke-width="0.8" fill="none"/>
<rect x="81" y="763" width="20" height="8" rx="4" fill="none" stroke="#a3abc0" stroke-width="0.8"/>
<rect x="73.8" y="684.9" width="4.7" height="46.9" fill="url(#stem2)"/>
<polygon points="73.8,678.8 107.1,663.1 109.6,672 75.8,686.9 73.8,686.9" fill="#000"/>
<path d="M49.3,876.7 L49.3,958.3 A43.85,8 0 0 0 137,958.3 L137,876.7 Z" fill="#e4e2e2" stroke="#8e9cc2" stroke-width="1.3"/>
<ellipse cx="93.15" cy="876.7" rx="43.85" ry="6" fill="#ebebeb" stroke="#8e9cc2" stroke-width="1.3"/>
<ellipse cx="92.15" cy="866.8" rx="36.75" ry="4.4" fill="#f0f0f0" stroke="#777" stroke-width="1.2"/>
<path d="M55.4,866.8 L55.4,960 A36.75,6.5 0 0 0 128.9,960 L128.9,866.8" fill="#e2e0e0" stroke="#8a8a8a" stroke-width="1"/>
<path d="M56,895.5 L56,960 A36.2,6.5 0 0 0 128.4,960 L128.4,895.5 Z" fill="#b6c2d8"/>
<ellipse cx="92.2" cy="895.5" rx="36.2" ry="6.2" fill="#c4cbe0"/>
<path d="M49.3,876.7 A43.85,6 0 0 0 137,876.7" fill="none" stroke="#8e9cc2" stroke-width="1.3"/>
<path d="M49.3,958.3 A43.85,8 0 0 0 137,958.3" fill="none" stroke="#8e9cc2" stroke-width="1.3"/>
<path d="M46.5,882 q-2,3 1,5" fill="none" stroke="#666" stroke-width="1"/>
<path d="M109,901 V949 M109,911 h5 M109,920 h5 M109,930 h5 M109,939 h5 M109,949 h5" stroke="#8a93a8" stroke-width="0.8" fill="none"/>
<rect x="81" y="933" width="20" height="8" rx="4" fill="none" stroke="#a3abc0" stroke-width="0.8"/>
<rect x="75.6" y="847" width="3.6" height="55.5" fill="url(#stem2)"/>
<polygon points="74,845.4 112.6,845.4 110.6,853 78.5,853 74,853" fill="#000"/>
<path d="M49.3,1052.7 L49.3,1134.3 A43.85,8 0 0 0 137,1134.3 L137,1052.7 Z" fill="#e4e2e2" stroke="#8e9cc2" stroke-width="1.3"/>
<ellipse cx="93.15" cy="1052.7" rx="43.85" ry="6" fill="#ebebeb" stroke="#8e9cc2" stroke-width="1.3"/>
<ellipse cx="92.15" cy="1042.8" rx="36.75" ry="4.4" fill="#f0f0f0" stroke="#777" stroke-width="1.2"/>
<path d="M55.4,1042.8 L55.4,1136 A36.75,6.5 0 0 0 128.9,1136 L128.9,1042.8" fill="#e2e0e0" stroke="#8a8a8a" stroke-width="1"/>
<path d="M56,1071.5 L56,1136 A36.2,6.5 0 0 0 128.4,1136 L128.4,1071.5 Z" fill="#b6c2d8"/>
<ellipse cx="92.2" cy="1071.5" rx="36.2" ry="6.2" fill="#c4cbe0"/>
<path d="M49.3,1052.7 A43.85,6 0 0 0 137,1052.7" fill="none" stroke="#8e9cc2" stroke-width="1.3"/>
<path d="M49.3,1134.3 A43.85,8 0 0 0 137,1134.3" fill="none" stroke="#8e9cc2" stroke-width="1.3"/>
<path d="M46.5,1058 q-2,3 1,5" fill="none" stroke="#666" stroke-width="1"/>
<path d="M109,1077 V1125 M109,1087 h5 M109,1096 h5 M109,1106 h5 M109,1115 h5 M109,1125 h5" stroke="#8a93a8" stroke-width="0.8" fill="none"/>
<rect x="81" y="1109" width="20" height="8" rx="4" fill="none" stroke="#a3abc0" stroke-width="0.8"/>
<rect x="72" y="1023.5" width="4.6" height="54.5" fill="url(#stem2)"/>
<polygon points="72,1018.4 79,1018.4 110.9,1035.2 107.5,1042.5 76.6,1026.5 72,1026.5" fill="#000"/>
<rect x="203.5" y="1169.4" width="344.8" height="19.8" fill="url(#cbar1)" stroke="#444" stroke-width="1"/>
<text x="113.48" y="1186.30" font-size="23.32" font-weight="bold" fill="#000" >21.9 °C</text>
<text x="554.76" y="1191.50" font-size="22.91" font-weight="bold" fill="#000" >45 °C</text>
<rect x="4.6" y="588.3" width="654.0" height="616.7" rx="25" ry="25" fill="none" stroke="#767171" stroke-width="4.5" stroke-dasharray="5 5"/>
<text x="754.82" y="28.76" font-size="33.51" font-weight="bold" fill="#000" >(c)</text>
<path d="M781.00,104.70 L787.43,109.05 L793.87,113.40 L800.30,117.75 L806.73,122.10 L813.17,126.45 L819.60,130.80 L826.03,135.14 L832.47,139.49 L838.90,143.84 L845.33,148.19 L851.77,152.54 L858.20,156.89 L864.63,161.24 L871.07,165.59 L877.50,169.94 L883.93,174.29 L890.37,178.64 L896.80,182.99 L903.23,187.33 L909.67,191.68 L916.10,196.03 L922.53,200.38 L928.97,204.73 L935.40,209.08 L941.83,213.43 L948.27,217.78 L954.70,222.13 L961.13,226.48 L967.57,230.83 L974.00,235.18 L980.43,239.52 L986.87,243.87 L993.30,248.22 L999.73,252.57 L1006.17,256.92 L1012.60,261.27 L1019.03,265.62 L1025.47,269.97 L1031.90,274.32 L1038.33,278.67 L1044.77,283.02 L1051.20,287.37 L1057.63,291.72 L1064.07,296.06 L1070.50,300.41 L1076.93,304.76 L1083.37,309.11 L1089.80,313.46 L1096.23,317.81 L1102.67,322.16 L1109.10,326.51 L1115.53,330.86 L1121.97,335.21 L1128.40,339.56 L1134.83,343.91 L1141.27,348.25 L1147.70,352.60 L1154.13,356.95 L1160.57,361.30 L1167.00,365.65 L1173.43,370.00 L1179.87,374.35 L1186.30,378.70 L1192.73,383.05 L1199.17,387.40 L1205.60,391.75 L1212.03,396.10 L1218.47,400.44 L1224.90,404.79 L1231.33,409.14 L1237.77,413.49 L1244.20,417.84" fill="none" stroke="#d20000" stroke-width="1.4"/>
<rect x="777.90" y="101.60" width="6.2" height="6.2" fill="#d20000"/>
<rect x="784.33" y="105.95" width="6.2" height="6.2" fill="#d20000"/>
<rect x="790.77" y="110.30" width="6.2" height="6.2" fill="#d20000"/>
<rect x="797.20" y="114.65" width="6.2" height="6.2" fill="#d20000"/>
<rect x="803.63" y="119.00" width="6.2" height="6.2" fill="#d20000"/>
<rect x="810.07" y="123.35" width="6.2" height="6.2" fill="#d20000"/>
<rect x="816.50" y="127.70" width="6.2" height="6.2" fill="#d20000"/>
<rect x="822.93" y="132.04" width="6.2" height="6.2" fill="#d20000"/>
<rect x="829.37" y="136.39" width="6.2" height="6.2" fill="#d20000"/>
<rect x="835.80" y="140.74" width="6.2" height="6.2" fill="#d20000"/>
<rect x="842.23" y="145.09" width="6.2" height="6.2" fill="#d20000"/>
<rect x="848.67" y="149.44" width="6.2" height="6.2" fill="#d20000"/>
<rect x="855.10" y="153.79" width="6.2" height="6.2" fill="#d20000"/>
<rect x="861.53" y="158.14" width="6.2" height="6.2" fill="#d20000"/>
<rect x="867.97" y="162.49" width="6.2" height="6.2" fill="#d20000"/>
<rect x="874.40" y="166.84" width="6.2" height="6.2" fill="#d20000"/>
<rect x="880.83" y="171.19" width="6.2" height="6.2" fill="#d20000"/>
<rect x="887.27" y="175.54" width="6.2" height="6.2" fill="#d20000"/>
<rect x="893.70" y="179.89" width="6.2" height="6.2" fill="#d20000"/>
<rect x="900.13" y="184.23" width="6.2" height="6.2" fill="#d20000"/>
<rect x="906.57" y="188.58" width="6.2" height="6.2" fill="#d20000"/>
<rect x="913.00" y="192.93" width="6.2" height="6.2" fill="#d20000"/>
<rect x="919.43" y="197.28" width="6.2" height="6.2" fill="#d20000"/>
<rect x="925.87" y="201.63" width="6.2" height="6.2" fill="#d20000"/>
<rect x="932.30" y="205.98" width="6.2" height="6.2" fill="#d20000"/>
<rect x="938.73" y="210.33" width="6.2" height="6.2" fill="#d20000"/>
<rect x="945.17" y="214.68" width="6.2" height="6.2" fill="#d20000"/>
<rect x="951.60" y="219.03" width="6.2" height="6.2" fill="#d20000"/>
<rect x="958.03" y="223.38" width="6.2" height="6.2" fill="#d20000"/>
<rect x="964.47" y="227.73" width="6.2" height="6.2" fill="#d20000"/>
<rect x="970.90" y="232.08" width="6.2" height="6.2" fill="#d20000"/>
<rect x="977.33" y="236.42" width="6.2" height="6.2" fill="#d20000"/>
<rect x="983.77" y="240.77" width="6.2" height="6.2" fill="#d20000"/>
<rect x="990.20" y="245.12" width="6.2" height="6.2" fill="#d20000"/>
<rect x="996.63" y="249.47" width="6.2" height="6.2" fill="#d20000"/>
<rect x="1003.07" y="253.82" width="6.2" height="6.2" fill="#d20000"/>
<rect x="1009.50" y="258.17" width="6.2" height="6.2" fill="#d20000"/>
<rect x="1015.93" y="262.52" width="6.2" height="6.2" fill="#d20000"/>
<rect x="1022.37" y="266.87" width="6.2" height="6.2" fill="#d20000"/>
<rect x="1028.80" y="271.22" width="6.2" height="6.2" fill="#d20000"/>
<rect x="1035.23" y="275.57" width="6.2" height="6.2" fill="#d20000"/>
<rect x="1041.67" y="279.92" width="6.2" height="6.2" fill="#d20000"/>
<rect x="1048.10" y="284.27" width="6.2" height="6.2" fill="#d20000"/>
<rect x="1054.53" y="288.62" width="6.2" height="6.2" fill="#d20000"/>
<rect x="1060.97" y="292.96" width="6.2" height="6.2" fill="#d20000"/>
<rect x="1067.40" y="297.31" width="6.2" height="6.2" fill="#d20000"/>
<rect x="1073.83" y="301.66" width="6.2" height="6.2" fill="#d20000"/>
<rect x="1080.27" y="306.01" width="6.2" height="6.2" fill="#d20000"/>
<rect x="1086.70" y="310.36" width="6.2" height="6.2" fill="#d20000"/>
<rect x="1093.13" y="314.71" width="6.2" height="6.2" fill="#d20000"/>
<rect x="1099.57" y="319.06" width="6.2" height="6.2" fill="#d20000"/>
<rect x="1106.00" y="323.41" width="6.2" height="6.2" fill="#d20000"/>
<rect x="1112.43" y="327.76" width="6.2" height="6.2" fill="#d20000"/>
<rect x="1118.87" y="332.11" width="6.2" height="6.2" fill="#d20000"/>
<rect x="1125.30" y="336.46" width="6.2" height="6.2" fill="#d20000"/>
<rect x="1131.73" y="340.81" width="6.2" height="6.2" fill="#d20000"/>
<rect x="1138.17" y="345.15" width="6.2" height="6.2" fill="#d20000"/>
<rect x="1144.60" y="349.50" width="6.2" height="6.2" fill="#d20000"/>
<rect x="1151.03" y="353.85" width="6.2" height="6.2" fill="#d20000"/>
<rect x="1157.47" y="358.20" width="6.2" height="6.2" fill="#d20000"/>
<rect x="1163.90" y="362.55" width="6.2" height="6.2" fill="#d20000"/>
<rect x="1170.33" y="366.90" width="6.2" height="6.2" fill="#d20000"/>
<rect x="1176.77" y="371.25" width="6.2" height="6.2" fill="#d20000"/>
<rect x="1183.20" y="375.60" width="6.2" height="6.2" fill="#d20000"/>
<rect x="1189.63" y="379.95" width="6.2" height="6.2" fill="#d20000"/>
<rect x="1196.07" y="384.30" width="6.2" height="6.2" fill="#d20000"/>
<rect x="1202.50" y="388.65" width="6.2" height="6.2" fill="#d20000"/>
<rect x="1208.93" y="393.00" width="6.2" height="6.2" fill="#d20000"/>
<rect x="1215.37" y="397.34" width="6.2" height="6.2" fill="#d20000"/>
<rect x="1221.80" y="401.69" width="6.2" height="6.2" fill="#d20000"/>
<rect x="1228.23" y="406.04" width="6.2" height="6.2" fill="#d20000"/>
<rect x="1234.67" y="410.39" width="6.2" height="6.2" fill="#d20000"/>
<rect x="1241.10" y="414.74" width="6.2" height="6.2" fill="#d20000"/>
<path d="M781.00,104.70 L787.43,109.39 L793.87,114.08 L800.30,118.77 L806.73,123.46 L813.17,128.14 L819.60,132.83 L826.03,137.51 L832.47,142.19 L838.90,146.86 L845.33,151.53 L851.77,156.20 L858.20,160.86 L864.63,165.51 L871.07,170.17 L877.50,174.81 L883.93,179.45 L890.37,184.08 L896.80,188.70 L903.23,193.32 L909.67,197.93 L916.10,202.53 L922.53,207.13 L928.97,211.71 L935.40,216.29 L941.83,220.86 L948.27,225.41 L954.70,229.96 L961.13,234.50 L967.57,239.03 L974.00,243.55 L980.43,248.06 L986.87,252.56 L993.30,257.05 L999.73,261.53 L1006.17,266.00 L1012.60,270.45 L1019.03,274.90 L1025.47,279.34 L1031.90,283.77 L1038.33,288.18 L1044.77,292.59 L1051.20,296.99 L1057.63,301.37 L1064.07,305.75 L1070.50,310.12 L1076.93,314.48 L1083.37,318.82 L1089.80,323.16 L1096.23,327.49 L1102.67,331.81 L1109.10,336.13 L1115.53,340.43 L1121.97,344.73 L1128.40,349.02 L1134.83,353.30 L1141.27,357.57 L1147.70,361.84 L1154.13,366.10 L1160.57,370.36 L1167.00,374.61 L1173.43,378.85 L1179.87,383.09 L1186.30,387.33 L1192.73,391.56 L1199.17,395.79 L1205.60,400.01 L1212.03,404.24 L1218.47,408.46 L1224.90,412.68 L1231.33,416.89 L1237.77,421.11 L1244.20,425.32" fill="none" stroke="#14a514" stroke-width="1.4"/>
<polygon points="781.00,100.46 784.80,107.30 777.20,107.30" fill="#14a514"/>
<polygon points="787.43,105.15 791.23,111.99 783.63,111.99" fill="#14a514"/>
<polygon points="793.87,109.84 797.67,116.68 790.07,116.68" fill="#14a514"/>
<polygon points="800.30,114.53 804.10,121.37 796.50,121.37" fill="#14a514"/>
<polygon points="806.73,119.22 810.53,126.06 802.93,126.06" fill="#14a514"/>
<polygon points="813.17,123.90 816.97,130.74 809.37,130.74" fill="#14a514"/>
<polygon points="819.60,128.59 823.40,135.43 815.80,135.43" fill="#14a514"/>
<polygon points="826.03,133.27 829.83,140.11 822.23,140.11" fill="#14a514"/>
<polygon points="832.47,137.95 836.27,144.79 828.67,144.79" fill="#14a514"/>
<polygon points="838.90,142.62 842.70,149.46 835.10,149.46" fill="#14a514"/>
<polygon points="845.33,147.29 849.13,154.13 841.53,154.13" fill="#14a514"/>
<polygon points="851.77,151.96 855.57,158.80 847.97,158.80" fill="#14a514"/>
<polygon points="858.20,156.62 862.00,163.46 854.40,163.46" fill="#14a514"/>
<polygon points="864.63,161.27 868.43,168.11 860.83,168.11" fill="#14a514"/>
<polygon points="871.07,165.92 874.87,172.76 867.27,172.76" fill="#14a514"/>
<polygon points="877.50,170.57 881.30,177.41 873.70,177.41" fill="#14a514"/>
<polygon points="883.93,175.21 887.73,182.05 880.13,182.05" fill="#14a514"/>
<polygon points="890.37,179.84 894.17,186.68 886.57,186.68" fill="#14a514"/>
<polygon points="896.80,184.46 900.60,191.30 893.00,191.30" fill="#14a514"/>
<polygon points="903.23,189.08 907.03,195.92 899.43,195.92" fill="#14a514"/>
<polygon points="909.67,193.69 913.47,200.53 905.87,200.53" fill="#14a514"/>
<polygon points="916.10,198.29 919.90,205.13 912.30,205.13" fill="#14a514"/>
<polygon points="922.53,202.89 926.33,209.73 918.73,209.73" fill="#14a514"/>
<polygon points="928.97,207.47 932.77,214.31 925.17,214.31" fill="#14a514"/>
<polygon points="935.40,212.05 939.20,218.89 931.60,218.89" fill="#14a514"/>
<polygon points="941.83,216.61 945.63,223.45 938.03,223.45" fill="#14a514"/>
<polygon points="948.27,221.17 952.07,228.01 944.47,228.01" fill="#14a514"/>
<polygon points="954.70,225.72 958.50,232.56 950.90,232.56" fill="#14a514"/>
<polygon points="961.13,230.26 964.93,237.10 957.33,237.10" fill="#14a514"/>
<polygon points="967.57,234.79 971.37,241.63 963.77,241.63" fill="#14a514"/>
<polygon points="974.00,239.31 977.80,246.15 970.20,246.15" fill="#14a514"/>
<polygon points="980.43,243.82 984.23,250.66 976.63,250.66" fill="#14a514"/>
<polygon points="986.87,248.32 990.67,255.16 983.07,255.16" fill="#14a514"/>
<polygon points="993.30,252.81 997.10,259.65 989.50,259.65" fill="#14a514"/>
<polygon points="999.73,257.29 1003.53,264.13 995.93,264.13" fill="#14a514"/>
<polygon points="1006.17,261.76 1009.97,268.60 1002.37,268.60" fill="#14a514"/>
<polygon points="1012.60,266.21 1016.40,273.05 1008.80,273.05" fill="#14a514"/>
<polygon points="1019.03,270.66 1022.83,277.50 1015.23,277.50" fill="#14a514"/>
<polygon points="1025.47,275.10 1029.27,281.94 1021.67,281.94" fill="#14a514"/>
<polygon points="1031.90,279.53 1035.70,286.37 1028.10,286.37" fill="#14a514"/>
<polygon points="1038.33,283.94 1042.13,290.78 1034.53,290.78" fill="#14a514"/>
<polygon points="1044.77,288.35 1048.57,295.19 1040.97,295.19" fill="#14a514"/>
<polygon points="1051.20,292.75 1055.00,299.59 1047.40,299.59" fill="#14a514"/>
<polygon points="1057.63,297.13 1061.43,303.97 1053.83,303.97" fill="#14a514"/>
<polygon points="1064.07,301.51 1067.87,308.35 1060.27,308.35" fill="#14a514"/>
<polygon points="1070.50,305.88 1074.30,312.72 1066.70,312.72" fill="#14a514"/>
<polygon points="1076.93,310.23 1080.73,317.07 1073.13,317.07" fill="#14a514"/>
<polygon points="1083.37,314.58 1087.17,321.42 1079.57,321.42" fill="#14a514"/>
<polygon points="1089.80,318.92 1093.60,325.76 1086.00,325.76" fill="#14a514"/>
<polygon points="1096.23,323.25 1100.03,330.09 1092.43,330.09" fill="#14a514"/>
<polygon points="1102.67,327.57 1106.47,334.41 1098.87,334.41" fill="#14a514"/>
<polygon points="1109.10,331.89 1112.90,338.73 1105.30,338.73" fill="#14a514"/>
<polygon points="1115.53,336.19 1119.33,343.03 1111.73,343.03" fill="#14a514"/>
<polygon points="1121.97,340.49 1125.77,347.33 1118.17,347.33" fill="#14a514"/>
<polygon points="1128.40,344.78 1132.20,351.62 1124.60,351.62" fill="#14a514"/>
<polygon points="1134.83,349.06 1138.63,355.90 1131.03,355.90" fill="#14a514"/>
<polygon points="1141.27,353.33 1145.07,360.17 1137.47,360.17" fill="#14a514"/>
<polygon points="1147.70,357.60 1151.50,364.44 1143.90,364.44" fill="#14a514"/>
<polygon points="1154.13,361.86 1157.93,368.70 1150.33,368.70" fill="#14a514"/>
<polygon points="1160.57,366.12 1164.37,372.96 1156.77,372.96" fill="#14a514"/>
<polygon points="1167.00,370.37 1170.80,377.21 1163.20,377.21" fill="#14a514"/>
<polygon points="1173.43,374.61 1177.23,381.45 1169.63,381.45" fill="#14a514"/>
<polygon points="1179.87,378.85 1183.67,385.69 1176.07,385.69" fill="#14a514"/>
<polygon points="1186.30,383.09 1190.10,389.93 1182.50,389.93" fill="#14a514"/>
<polygon points="1192.73,387.32 1196.53,394.16 1188.93,394.16" fill="#14a514"/>
<polygon points="1199.17,391.55 1202.97,398.39 1195.37,398.39" fill="#14a514"/>
<polygon points="1205.60,395.77 1209.40,402.61 1201.80,402.61" fill="#14a514"/>
<polygon points="1212.03,400.00 1215.83,406.84 1208.23,406.84" fill="#14a514"/>
<polygon points="1218.47,404.22 1222.27,411.06 1214.67,411.06" fill="#14a514"/>
<polygon points="1224.90,408.43 1228.70,415.27 1221.10,415.27" fill="#14a514"/>
<polygon points="1231.33,412.65 1235.13,419.49 1227.53,419.49" fill="#14a514"/>
<polygon points="1237.77,416.87 1241.57,423.71 1233.97,423.71" fill="#14a514"/>
<polygon points="1244.20,421.08 1248.00,427.92 1240.40,427.92" fill="#14a514"/>
<path d="M781.00,104.70 L787.43,109.77 L793.87,114.84 L800.30,119.90 L806.73,124.98 L813.17,130.05 L819.60,135.12 L826.03,140.20 L832.47,145.27 L838.90,150.36 L845.33,155.44 L851.77,160.53 L858.20,165.62 L864.63,170.72 L871.07,175.82 L877.50,180.92 L883.93,186.04 L890.37,191.15 L896.80,196.27 L903.23,201.40 L909.67,206.54 L916.10,211.68 L922.53,216.83 L928.97,221.98 L935.40,227.15 L941.83,232.32 L948.27,237.50 L954.70,242.68 L961.13,247.88 L967.57,253.08 L974.00,258.29 L980.43,263.51 L986.87,268.73 L993.30,273.97 L999.73,279.21 L1006.17,284.47 L1012.60,289.73 L1019.03,295.00 L1025.47,300.28 L1031.90,305.56 L1038.33,310.86 L1044.77,316.16 L1051.20,321.48 L1057.63,326.80 L1064.07,332.13 L1070.50,337.46 L1076.93,342.81 L1083.37,348.16 L1089.80,353.52 L1096.23,358.89 L1102.67,364.27 L1109.10,369.65 L1115.53,375.04 L1121.97,380.44 L1128.40,385.84 L1134.83,391.25 L1141.27,396.66 L1147.70,402.08 L1154.13,407.51 L1160.57,412.94 L1167.00,418.37 L1173.43,423.81 L1179.87,429.25 L1186.30,434.70 L1192.73,440.15 L1199.17,445.60 L1205.60,451.06 L1212.03,456.52 L1218.47,461.98 L1224.90,467.44 L1231.33,472.90 L1237.77,478.36 L1244.20,483.83" fill="none" stroke="#1877e8" stroke-width="1.4"/>
<circle cx="781.00" cy="104.70" r="3.3" fill="#1877e8"/>
<circle cx="787.43" cy="109.77" r="3.3" fill="#1877e8"/>
<circle cx="793.87" cy="114.84" r="3.3" fill="#1877e8"/>
<circle cx="800.30" cy="119.90" r="3.3" fill="#1877e8"/>
<circle cx="806.73" cy="124.98" r="3.3" fill="#1877e8"/>
<circle cx="813.17" cy="130.05" r="3.3" fill="#1877e8"/>
<circle cx="819.60" cy="135.12" r="3.3" fill="#1877e8"/>
<circle cx="826.03" cy="140.20" r="3.3" fill="#1877e8"/>
<circle cx="832.47" cy="145.27" r="3.3" fill="#1877e8"/>
<circle cx="838.90" cy="150.36" r="3.3" fill="#1877e8"/>
<circle cx="845.33" cy="155.44" r="3.3" fill="#1877e8"/>
<circle cx="851.77" cy="160.53" r="3.3" fill="#1877e8"/>
<circle cx="858.20" cy="165.62" r="3.3" fill="#1877e8"/>
<circle cx="864.63" cy="170.72" r="3.3" fill="#1877e8"/>
<circle cx="871.07" cy="175.82" r="3.3" fill="#1877e8"/>
<circle cx="877.50" cy="180.92" r="3.3" fill="#1877e8"/>
<circle cx="883.93" cy="186.04" r="3.3" fill="#1877e8"/>
<circle cx="890.37" cy="191.15" r="3.3" fill="#1877e8"/>
<circle cx="896.80" cy="196.27" r="3.3" fill="#1877e8"/>
<circle cx="903.23" cy="201.40" r="3.3" fill="#1877e8"/>
<circle cx="909.67" cy="206.54" r="3.3" fill="#1877e8"/>
<circle cx="916.10" cy="211.68" r="3.3" fill="#1877e8"/>
<circle cx="922.53" cy="216.83" r="3.3" fill="#1877e8"/>
<circle cx="928.97" cy="221.98" r="3.3" fill="#1877e8"/>
<circle cx="935.40" cy="227.15" r="3.3" fill="#1877e8"/>
<circle cx="941.83" cy="232.32" r="3.3" fill="#1877e8"/>
<circle cx="948.27" cy="237.50" r="3.3" fill="#1877e8"/>
<circle cx="954.70" cy="242.68" r="3.3" fill="#1877e8"/>
<circle cx="961.13" cy="247.88" r="3.3" fill="#1877e8"/>
<circle cx="967.57" cy="253.08" r="3.3" fill="#1877e8"/>
<circle cx="974.00" cy="258.29" r="3.3" fill="#1877e8"/>
<circle cx="980.43" cy="263.51" r="3.3" fill="#1877e8"/>
<circle cx="986.87" cy="268.73" r="3.3" fill="#1877e8"/>
<circle cx="993.30" cy="273.97" r="3.3" fill="#1877e8"/>
<circle cx="999.73" cy="279.21" r="3.3" fill="#1877e8"/>
<circle cx="1006.17" cy="284.47" r="3.3" fill="#1877e8"/>
<circle cx="1012.60" cy="289.73" r="3.3" fill="#1877e8"/>
<circle cx="1019.03" cy="295.00" r="3.3" fill="#1877e8"/>
<circle cx="1025.47" cy="300.28" r="3.3" fill="#1877e8"/>
<circle cx="1031.90" cy="305.56" r="3.3" fill="#1877e8"/>
<circle cx="1038.33" cy="310.86" r="3.3" fill="#1877e8"/>
<circle cx="1044.77" cy="316.16" r="3.3" fill="#1877e8"/>
<circle cx="1051.20" cy="321.48" r="3.3" fill="#1877e8"/>
<circle cx="1057.63" cy="326.80" r="3.3" fill="#1877e8"/>
<circle cx="1064.07" cy="332.13" r="3.3" fill="#1877e8"/>
<circle cx="1070.50" cy="337.46" r="3.3" fill="#1877e8"/>
<circle cx="1076.93" cy="342.81" r="3.3" fill="#1877e8"/>
<circle cx="1083.37" cy="348.16" r="3.3" fill="#1877e8"/>
<circle cx="1089.80" cy="353.52" r="3.3" fill="#1877e8"/>
<circle cx="1096.23" cy="358.89" r="3.3" fill="#1877e8"/>
<circle cx="1102.67" cy="364.27" r="3.3" fill="#1877e8"/>
<circle cx="1109.10" cy="369.65" r="3.3" fill="#1877e8"/>
<circle cx="1115.53" cy="375.04" r="3.3" fill="#1877e8"/>
<circle cx="1121.97" cy="380.44" r="3.3" fill="#1877e8"/>
<circle cx="1128.40" cy="385.84" r="3.3" fill="#1877e8"/>
<circle cx="1134.83" cy="391.25" r="3.3" fill="#1877e8"/>
<circle cx="1141.27" cy="396.66" r="3.3" fill="#1877e8"/>
<circle cx="1147.70" cy="402.08" r="3.3" fill="#1877e8"/>
<circle cx="1154.13" cy="407.51" r="3.3" fill="#1877e8"/>
<circle cx="1160.57" cy="412.94" r="3.3" fill="#1877e8"/>
<circle cx="1167.00" cy="418.37" r="3.3" fill="#1877e8"/>
<circle cx="1173.43" cy="423.81" r="3.3" fill="#1877e8"/>
<circle cx="1179.87" cy="429.25" r="3.3" fill="#1877e8"/>
<circle cx="1186.30" cy="434.70" r="3.3" fill="#1877e8"/>
<circle cx="1192.73" cy="440.15" r="3.3" fill="#1877e8"/>
<circle cx="1199.17" cy="445.60" r="3.3" fill="#1877e8"/>
<circle cx="1205.60" cy="451.06" r="3.3" fill="#1877e8"/>
<circle cx="1212.03" cy="456.52" r="3.3" fill="#1877e8"/>
<circle cx="1218.47" cy="461.98" r="3.3" fill="#1877e8"/>
<circle cx="1224.90" cy="467.44" r="3.3" fill="#1877e8"/>
<circle cx="1231.33" cy="472.90" r="3.3" fill="#1877e8"/>
<circle cx="1237.77" cy="478.36" r="3.3" fill="#1877e8"/>
<circle cx="1244.20" cy="483.83" r="3.3" fill="#1877e8"/>
<path d="M819.60,354.87 L858.20,384.86 L896.80,382.62 L935.40,378.33 L974.00,372.62 L1012.60,370.78 L1051.20,368.74 L1089.80,365.07 L1128.40,370.78 L1167.00,376.49 L1205.60,363.44 L1244.20,363.44" fill="none" stroke="#1877e8" stroke-width="2"/>
<circle cx="819.60" cy="354.87" r="5.0" fill="#1877e8"/>
<circle cx="858.20" cy="384.86" r="5.0" fill="#1877e8"/>
<circle cx="896.80" cy="382.62" r="5.0" fill="#1877e8"/>
<circle cx="935.40" cy="378.33" r="5.0" fill="#1877e8"/>
<circle cx="974.00" cy="372.62" r="5.0" fill="#1877e8"/>
<circle cx="1012.60" cy="370.78" r="5.0" fill="#1877e8"/>
<circle cx="1051.20" cy="368.74" r="5.0" fill="#1877e8"/>
<circle cx="1089.80" cy="365.07" r="5.0" fill="#1877e8"/>
<circle cx="1128.40" cy="370.78" r="5.0" fill="#1877e8"/>
<circle cx="1167.00" cy="376.49" r="5.0" fill="#1877e8"/>
<circle cx="1205.60" cy="363.44" r="5.0" fill="#1877e8"/>
<circle cx="1244.20" cy="363.44" r="5.0" fill="#1877e8"/>
<path d="M819.60,348.34 L858.20,392.00 L896.80,399.35 L935.40,399.35 L974.00,402.82 L1012.60,394.04 L1051.20,392.41 L1089.80,396.70 L1128.40,398.53 L1167.00,391.80 L1205.60,389.96 L1244.20,395.88" fill="none" stroke="#14a514" stroke-width="2"/>
<polygon points="819.60,342.20 825.10,352.10 814.10,352.10" fill="#14a514"/>
<polygon points="858.20,385.86 863.70,395.76 852.70,395.76" fill="#14a514"/>
<polygon points="896.80,393.21 902.30,403.11 891.30,403.11" fill="#14a514"/>
<polygon points="935.40,393.21 940.90,403.11 929.90,403.11" fill="#14a514"/>
<polygon points="974.00,396.68 979.50,406.58 968.50,406.58" fill="#14a514"/>
<polygon points="1012.60,387.90 1018.10,397.80 1007.10,397.80" fill="#14a514"/>
<polygon points="1051.20,386.27 1056.70,396.17 1045.70,396.17" fill="#14a514"/>
<polygon points="1089.80,390.56 1095.30,400.46 1084.30,400.46" fill="#14a514"/>
<polygon points="1128.40,392.39 1133.90,402.29 1122.90,402.29" fill="#14a514"/>
<polygon points="1167.00,385.66 1172.50,395.56 1161.50,395.56" fill="#14a514"/>
<polygon points="1205.60,383.82 1211.10,393.72 1200.10,393.72" fill="#14a514"/>
<polygon points="1244.20,389.74 1249.70,399.64 1238.70,399.64" fill="#14a514"/>
<path d="M819.60,368.74 L858.20,405.27 L896.80,402.00 L935.40,403.63 L974.00,402.00 L1012.60,392.41 L1051.20,387.31 L1089.80,391.39 L1128.40,392.41 L1167.00,401.18 L1205.60,398.53 L1244.20,403.43" fill="none" stroke="#d20000" stroke-width="2"/>
<rect x="814.85" y="363.99" width="9.5" height="9.5" fill="#d20000"/>
<rect x="853.45" y="400.52" width="9.5" height="9.5" fill="#d20000"/>
<rect x="892.05" y="397.25" width="9.5" height="9.5" fill="#d20000"/>
<rect x="930.65" y="398.88" width="9.5" height="9.5" fill="#d20000"/>
<rect x="969.25" y="397.25" width="9.5" height="9.5" fill="#d20000"/>
<rect x="1007.85" y="387.66" width="9.5" height="9.5" fill="#d20000"/>
<rect x="1046.45" y="382.56" width="9.5" height="9.5" fill="#d20000"/>
<rect x="1085.05" y="386.64" width="9.5" height="9.5" fill="#d20000"/>
<rect x="1123.65" y="387.66" width="9.5" height="9.5" fill="#d20000"/>
<rect x="1162.25" y="396.43" width="9.5" height="9.5" fill="#d20000"/>
<rect x="1200.85" y="393.78" width="9.5" height="9.5" fill="#d20000"/>
<rect x="1239.45" y="398.68" width="9.5" height="9.5" fill="#d20000"/>
<line x1="860.1" y1="231.9" x2="860.1" y2="502.5" stroke="#000" stroke-width="3.6" stroke-dasharray="13.4 10 2.8 10.6"/>
<rect x="781.0" y="104.7" width="501.80" height="408.10" fill="none" stroke="#1a1a1a" stroke-width="2.2"/>
<path d="M781.00,512.8 v7 M781.00,104.7 v7.7 M819.60,512.8 v4 M819.60,104.7 v4.7 M858.20,512.8 v7 M858.20,104.7 v7.7 M896.80,512.8 v4 M896.80,104.7 v4.7 M935.40,512.8 v7 M935.40,104.7 v7.7 M974.00,512.8 v4 M974.00,104.7 v4.7 M1012.60,512.8 v7 M1012.60,104.7 v7.7 M1051.20,512.8 v4 M1051.20,104.7 v4.7 M1089.80,512.8 v7 M1089.80,104.7 v7.7 M1128.40,512.8 v4 M1128.40,104.7 v4.7 M1167.00,512.8 v7 M1167.00,104.7 v7.7 M1205.60,512.8 v4 M1205.60,104.7 v4.7 M1244.20,512.8 v7 M1244.20,104.7 v7.7 M1282.80,512.8 v4 M1282.80,104.7 v4.7 M781.0,104.70 h-8.5 M781.0,150.05 h-5 M781.0,195.40 h-8.5 M781.0,240.75 h-5 M781.0,286.10 h-8.5 M781.0,331.45 h-5 M781.0,376.80 h-8.5 M781.0,422.15 h-5 M781.0,467.50 h-8.5 M781.0,512.85 h-5 M1282.80,512.80 h8.3 M1282.80,471.99 h4.8 M1282.80,431.18 h8.3 M1282.80,390.37 h4.8 M1282.80,349.56 h8.3 M1282.80,308.75 h4.8 M1282.80,267.94 h8.3 M1282.80,227.13 h4.8 M1282.80,186.32 h8.3 M1282.80,145.51 h4.8 M1282.80,104.70 h8.3" stroke="#1a1a1a" stroke-width="2.2" fill="none"/>
<text x="781.00" y="541.30" font-size="21.00" font-weight="normal" fill="#000" text-anchor="middle" stroke="#000" stroke-width="0.55">0</text>
<text x="858.20" y="541.30" font-size="21.00" font-weight="normal" fill="#000" text-anchor="middle" stroke="#000" stroke-width="0.55">2</text>
<text x="935.40" y="541.30" font-size="21.00" font-weight="normal" fill="#000" text-anchor="middle" stroke="#000" stroke-width="0.55">4</text>
<text x="1012.60" y="541.30" font-size="21.00" font-weight="normal" fill="#000" text-anchor="middle" stroke="#000" stroke-width="0.55">6</text>
<text x="1089.80" y="541.30" font-size="21.00" font-weight="normal" fill="#000" text-anchor="middle" stroke="#000" stroke-width="0.55">8</text>
<text x="1167.00" y="541.30" font-size="21.00" font-weight="normal" fill="#000" text-anchor="middle" stroke="#000" stroke-width="0.55">10</text>
<text x="1244.20" y="541.30" font-size="21.00" font-weight="normal" fill="#000" text-anchor="middle" stroke="#000" stroke-width="0.55">12</text>
<text x="768.50" y="110.30" font-size="21.00" font-weight="normal" fill="#000" text-anchor="end" stroke="#000" stroke-width="0.55">0</text>
<text x="768.50" y="201.00" font-size="21.00" font-weight="normal" fill="#000" text-anchor="end" stroke="#000" stroke-width="0.55">-2</text>
<text x="768.50" y="291.70" font-size="21.00" font-weight="normal" fill="#000" text-anchor="end" stroke="#000" stroke-width="0.55">-4</text>
<text x="768.50" y="382.40" font-size="21.00" font-weight="normal" fill="#000" text-anchor="end" stroke="#000" stroke-width="0.55">-6</text>
<text x="768.50" y="473.10" font-size="21.00" font-weight="normal" fill="#000" text-anchor="end" stroke="#000" stroke-width="0.55">-8</text>
<text x="1295" y="519.40" font-size="19" fill="#000" stroke="#000" stroke-width="0.5">0.0</text>
<text x="1295" y="437.78" font-size="19" fill="#000" stroke="#000" stroke-width="0.5">0.4</text>
<text x="1295" y="356.16" font-size="19" fill="#000" stroke="#000" stroke-width="0.5">0.8</text>
<text x="1295" y="274.54" font-size="19" fill="#000" stroke="#000" stroke-width="0.5">1.2</text>
<text x="1295" y="192.92" font-size="19" fill="#000" stroke="#000" stroke-width="0.5">1.6</text>
<text x="1295" y="111.30" font-size="19" fill="#000" stroke="#000" stroke-width="0.5">2.0</text>
<text x="998.77" y="565.50" font-size="22.91" font-weight="bold" fill="#000" >Time (h)</text>
<text x="0" y="0" font-size="24.2" font-weight="bold" text-anchor="middle" transform="translate(734.3 311.9) rotate(-90)">Mass Change (kg m<tspan font-size="16.5" dy="-7.5">-2</tspan><tspan dy="7.5">)</tspan></text>
<text x="0" y="0" font-size="24.2" font-weight="bold" text-anchor="middle" transform="translate(1352.6 314.2) rotate(-90)">Evaporation Flux (kg m<tspan font-size="16.5" dy="-7.5">-2</tspan><tspan dy="7.5"> h</tspan><tspan font-size="16.5" dy="-7.5">-1</tspan><tspan dy="7.5">)</tspan></text>
<text x="788.38" y="297.00" font-size="23.09" font-weight="bold" fill="#000" >Clean</text>
<text x="882.19" y="456.80" font-size="23.56" font-weight="bold" fill="#000" >Salt Accumulated</text>
<line x1="1149" y1="126" x2="1192.2" y2="126" stroke="#d20000" stroke-width="2"/>
<rect x="1167.20" y="122.50" width="7" height="7" fill="#d20000"/>
<text x="1197.65" y="131.80" font-size="18.34" font-weight="bold" fill="#000" >Straight</text>
<line x1="1149" y1="153.4" x2="1192.2" y2="153.4" stroke="#14a514" stroke-width="2"/>
<polygon points="1170.70,148.94 1174.70,156.14 1166.70,156.14" fill="#14a514"/>
<text x="1198.02" y="159.20" font-size="18.31" font-weight="bold" fill="#000" >Tilt -30°</text>
<line x1="1149" y1="180.2" x2="1192.2" y2="180.2" stroke="#1877e8" stroke-width="2"/>
<circle cx="1170.70" cy="180.20" r="3.5" fill="#1877e8"/>
<text x="1198.01" y="186.00" font-size="18.53" font-weight="bold" fill="#000" >Tilt +30°</text>
<text x="718.96" y="616.97" font-size="34.75" font-weight="bold" fill="#000" >(d)</text>
<rect x="782.5" y="669.5" width="38" height="18" fill="url(#gbar)" stroke="#3c3c3c" stroke-width="1.3"/>
<rect x="782.5" y="692" width="38" height="18.5" fill="url(#bbar)" stroke="#1414a0" stroke-width="2"/>
<text x="825.57" y="685.00" font-size="17.45" font-weight="bold" fill="#1e1e1e" >Evaporation Flux</text>
<text x="826.53" y="707.30" font-size="17.32" font-weight="bold" fill="#1e1e1e" >Thermal Efficiency</text>
<rect x="780.6" y="718.3" width="85.4" height="64.7" fill="#fff" stroke="#e6e6e6" stroke-width="1"/>
<rect x="810.3" y="735" width="5.2" height="47" fill="url(#stem)"/>
<polygon points="810.8,733.6 817.2,729 853.9,743.9 846.2,749.5 815.5,736.7" fill="#000"/>
<rect x="979.3" y="724.7" width="85.6" height="64" fill="#fff" stroke="#e6e6e6" stroke-width="1"/>
<rect x="1000.3" y="737.5" width="5.7" height="47.4" fill="url(#stem)"/>
<path d="M1000.3,738.3 L1000.3,735 Q1001,730.6 1004,730.6 L1052.8,730.6 L1050.3,738.3 Z" fill="#000"/>
<rect x="1170.9" y="668.2" width="86.1" height="57.1" fill="#fff" stroke="#e6e6e6" stroke-width="1"/>
<rect x="1198.4" y="689" width="4.9" height="36.3" fill="url(#stem)"/>
<polygon points="1198.4,686.5 1235.8,674.9 1238,681 1200,692.8 1198.4,692" fill="#000"/>
<rect x="793.90" y="835.31" width="25.6" height="248.29" fill="url(#gbar)" stroke="#404040" stroke-width="1.2"/>
<rect x="828.70" y="823.38" width="25.6" height="260.22" fill="url(#bbar)" stroke="#1414a0" stroke-width="1.8"/>
<path d="M806.70,861.98 V809.50 M801.70,861.98 h10 M801.70,809.50 h10" stroke="#111" stroke-width="2" fill="none"/>
<path d="M841.50,823.38 V797.79 M836.50,797.79 h10" stroke="#2a86ee" stroke-width="2" fill="none"/>
<rect x="989.85" y="828.58" width="25.6" height="255.02" fill="url(#gbar)" stroke="#404040" stroke-width="1.2"/>
<rect x="1023.05" y="813.84" width="25.6" height="269.76" fill="url(#bbar)" stroke="#1414a0" stroke-width="1.8"/>
<path d="M1002.65,852.87 V805.16 M997.65,852.87 h10 M997.65,805.16 h10" stroke="#111" stroke-width="2" fill="none"/>
<path d="M1035.85,813.84 V790.85 M1030.85,790.85 h10" stroke="#2a86ee" stroke-width="2" fill="none"/>
<rect x="1185.80" y="780.88" width="25.6" height="302.72" fill="url(#gbar)" stroke="#404040" stroke-width="1.2"/>
<rect x="1216.80" y="754.86" width="25.6" height="328.74" fill="url(#bbar)" stroke="#1414a0" stroke-width="1.8"/>
<path d="M1198.60,809.07 V753.12 M1193.60,809.07 h10 M1193.60,753.12 h10" stroke="#111" stroke-width="2" fill="none"/>
<path d="M1229.60,754.86 V727.10 M1224.60,727.10 h10" stroke="#2a86ee" stroke-width="2" fill="none"/>
<path d="M1295.8,649.9 H764.3 V1083.6 H1295.8" fill="none" stroke="#1a1a1a" stroke-width="2.2"/>
<path d="M1295.8,649.4 V1084.6" fill="none" stroke="#1b5ec6" stroke-width="2.2"/>
<path d="M806.70,1083.6 v7.5 M806.70,649.9 v7.5 M904.68,1083.6 v4 M904.68,649.9 v4 M1002.65,1083.6 v7.5 M1002.65,649.9 v7.5 M1100.62,1083.6 v4 M1100.62,649.9 v4 M1198.60,1083.6 v7.5 M1198.60,649.9 v7.5 M1296.58,1083.6 v4 M764.3,1083.60 h-9.5 M764.3,1040.23 h-5 M764.3,996.86 h-9.5 M764.3,953.49 h-5 M764.3,910.12 h-9.5 M764.3,866.75 h-5 M764.3,823.38 h-9.5 M764.3,780.01 h-5 M764.3,736.64 h-9.5 M764.3,693.27 h-5 M764.3,649.90 h-9.5" stroke="#1a1a1a" stroke-width="2.2" fill="none"/>
<path d="M1295.8,1083.60 h8 M1295.8,1040.23 h5 M1295.8,996.86 h8 M1295.8,953.49 h5 M1295.8,910.12 h8 M1295.8,866.75 h5 M1295.8,823.38 h8 M1295.8,780.01 h5 M1295.8,736.64 h8 M1295.8,693.27 h5 M1295.8,649.90 h8" stroke="#1b5ec6" stroke-width="2.2" fill="none"/>
<text x="749.60" y="1088.80" font-size="20.00" font-weight="bold" fill="#000" text-anchor="end" >0.0</text>
<text x="1309" y="1090.70" font-size="20" font-weight="bold" fill="#1b5ec6">0</text>
<text x="749.60" y="1002.06" font-size="20.00" font-weight="bold" fill="#000" text-anchor="end" >0.2</text>
<text x="1309" y="1003.96" font-size="20" font-weight="bold" fill="#1b5ec6">20</text>
<text x="749.60" y="915.32" font-size="20.00" font-weight="bold" fill="#000" text-anchor="end" >0.4</text>
<text x="1309" y="917.22" font-size="20" font-weight="bold" fill="#1b5ec6">40</text>
<text x="749.60" y="828.58" font-size="20.00" font-weight="bold" fill="#000" text-anchor="end" >0.6</text>
<text x="1309" y="830.48" font-size="20" font-weight="bold" fill="#1b5ec6">60</text>
<text x="749.60" y="741.84" font-size="20.00" font-weight="bold" fill="#000" text-anchor="end" >0.8</text>
<text x="1309" y="743.74" font-size="20" font-weight="bold" fill="#1b5ec6">80</text>
<text x="749.60" y="655.10" font-size="20.00" font-weight="bold" fill="#000" text-anchor="end" >1.0</text>
<text x="1309" y="657.00" font-size="20" font-weight="bold" fill="#1b5ec6">100</text>
<text x="766" y="1123" font-size="23.5" font-weight="bold">Tilt -30<tspan font-size="17.5" dy="-6">o</tspan></text>
<text x="954.31" y="1123.00" font-size="23.11" font-weight="bold" fill="#000" >Straight</text>
<text x="1168" y="1120.2" font-size="23.5" font-weight="bold">Tilt +30<tspan font-size="17.5" dy="-6">o</tspan></text>
<text x="0" y="0" font-size="24" font-weight="bold" text-anchor="middle" transform="translate(701.3 861.3) rotate(-90)">Evaporation Flux (kg m<tspan font-size="16.5" dy="-7.5">-2</tspan><tspan dy="7.5"> h</tspan><tspan font-size="16.5" dy="-7.5">-1</tspan><tspan dy="7.5">)</tspan></text>
<text x="0" y="0" font-size="23.7" font-weight="bold" fill="#1b5ec6" text-anchor="middle" transform="translate(1369.4 878.3) rotate(-90)">Thermal Efficiency (%)</text>
<text x="1366.27" y="29.57" font-size="34.67" font-weight="bold" fill="#000" >(e)</text>
<rect x="1446.0" y="77.9" width="263.40" height="485.10" fill="#fdf9ee"/>
<rect x="1709.4" y="77.9" width="272.80" height="485.10" fill="#f5f5f6"/>
<path d="M1446.00,79.40 L1453.45,84.65 L1460.89,89.89 L1468.34,95.14 L1475.79,100.39 L1483.24,105.63 L1490.68,110.88 L1498.13,116.13 L1505.58,121.37 L1513.03,126.62 L1520.47,131.87 L1527.92,137.11 L1535.37,142.36 L1542.81,147.61 L1550.26,152.85 L1557.71,158.10 L1565.16,163.35 L1572.60,168.59 L1580.05,173.84 L1587.50,179.09 L1594.94,184.33 L1602.39,189.58 L1609.84,194.83 L1617.29,200.07 L1624.73,205.32 L1632.18,210.57 L1639.63,215.81 L1647.08,221.06 L1654.52,226.31 L1661.97,231.55 L1669.42,236.80 L1676.86,242.05 L1684.31,247.29 L1691.76,252.54 L1699.21,257.79 L1706.65,263.03 L1714.10,268.28 L1721.55,269.30 L1728.99,270.31 L1736.44,271.33 L1743.89,272.34 L1751.34,273.36 L1758.78,274.37 L1766.23,275.38 L1773.68,276.40 L1781.12,277.41 L1788.57,278.43 L1796.02,279.44 L1803.47,280.46 L1810.91,281.47 L1818.36,282.49 L1825.81,283.50 L1833.26,284.52 L1840.70,285.53 L1848.15,286.55 L1855.60,287.56 L1863.04,288.58 L1870.49,289.59 L1877.94,290.61 L1885.39,291.62 L1892.83,292.64 L1900.28,293.65 L1907.73,294.67 L1915.18,295.68 L1922.62,296.70 L1930.07,297.71 L1937.52,298.73 L1944.96,299.74 L1952.41,300.76 L1959.86,301.77 L1967.31,302.78 L1974.75,303.80 L1982.20,304.81" fill="none" stroke="#555" stroke-width="1.2"/>
<circle cx="1446.60" cy="80.30" r="3.30" fill="#fff" stroke="#555" stroke-width="1"/>
<circle cx="1454.05" cy="85.55" r="3.30" fill="#fff" stroke="#555" stroke-width="1"/>
<circle cx="1461.49" cy="90.79" r="3.30" fill="#fff" stroke="#555" stroke-width="1"/>
<circle cx="1468.94" cy="96.04" r="3.30" fill="#fff" stroke="#555" stroke-width="1"/>
<circle cx="1476.39" cy="101.29" r="3.30" fill="#fff" stroke="#555" stroke-width="1"/>
<circle cx="1483.84" cy="106.53" r="3.30" fill="#fff" stroke="#555" stroke-width="1"/>
<circle cx="1491.28" cy="111.78" r="3.30" fill="#fff" stroke="#555" stroke-width="1"/>
<circle cx="1498.73" cy="117.03" r="3.30" fill="#fff" stroke="#555" stroke-width="1"/>
<circle cx="1506.18" cy="122.27" r="3.30" fill="#fff" stroke="#555" stroke-width="1"/>
<circle cx="1513.62" cy="127.52" r="3.30" fill="#fff" stroke="#555" stroke-width="1"/>
<circle cx="1521.07" cy="132.77" r="3.30" fill="#fff" stroke="#555" stroke-width="1"/>
<circle cx="1528.52" cy="138.01" r="3.30" fill="#fff" stroke="#555" stroke-width="1"/>
<circle cx="1535.97" cy="143.26" r="3.30" fill="#fff" stroke="#555" stroke-width="1"/>
<circle cx="1543.41" cy="148.51" r="3.30" fill="#fff" stroke="#555" stroke-width="1"/>
<circle cx="1550.86" cy="153.75" r="3.30" fill="#fff" stroke="#555" stroke-width="1"/>
<circle cx="1558.31" cy="159.00" r="3.30" fill="#fff" stroke="#555" stroke-width="1"/>
<circle cx="1565.76" cy="164.25" r="3.30" fill="#fff" stroke="#555" stroke-width="1"/>
<circle cx="1573.20" cy="169.49" r="3.30" fill="#fff" stroke="#555" stroke-width="1"/>
<circle cx="1580.65" cy="174.74" r="3.30" fill="#fff" stroke="#555" stroke-width="1"/>
<circle cx="1588.10" cy="179.99" r="3.30" fill="#fff" stroke="#555" stroke-width="1"/>
<circle cx="1595.54" cy="185.23" r="3.30" fill="#fff" stroke="#555" stroke-width="1"/>
<circle cx="1602.99" cy="190.48" r="3.30" fill="#fff" stroke="#555" stroke-width="1"/>
<circle cx="1610.44" cy="195.73" r="3.30" fill="#fff" stroke="#555" stroke-width="1"/>
<circle cx="1617.89" cy="200.97" r="3.30" fill="#fff" stroke="#555" stroke-width="1"/>
<circle cx="1625.33" cy="206.22" r="3.30" fill="#fff" stroke="#555" stroke-width="1"/>
<circle cx="1632.78" cy="211.47" r="3.30" fill="#fff" stroke="#555" stroke-width="1"/>
<circle cx="1640.23" cy="216.71" r="3.30" fill="#fff" stroke="#555" stroke-width="1"/>
<circle cx="1647.67" cy="221.96" r="3.30" fill="#fff" stroke="#555" stroke-width="1"/>
<circle cx="1655.12" cy="227.21" r="3.30" fill="#fff" stroke="#555" stroke-width="1"/>
<circle cx="1662.57" cy="232.45" r="3.30" fill="#fff" stroke="#555" stroke-width="1"/>
<circle cx="1670.02" cy="237.70" r="3.30" fill="#fff" stroke="#555" stroke-width="1"/>
<circle cx="1677.46" cy="242.95" r="3.30" fill="#fff" stroke="#555" stroke-width="1"/>
<circle cx="1684.91" cy="248.19" r="3.30" fill="#fff" stroke="#555" stroke-width="1"/>
<circle cx="1692.36" cy="253.44" r="3.30" fill="#fff" stroke="#555" stroke-width="1"/>
<circle cx="1699.81" cy="258.69" r="3.30" fill="#fff" stroke="#555" stroke-width="1"/>
<circle cx="1707.25" cy="263.93" r="3.30" fill="#fff" stroke="#555" stroke-width="1"/>
<circle cx="1714.70" cy="269.18" r="3.30" fill="#fff" stroke="#555" stroke-width="1"/>
<circle cx="1722.15" cy="270.20" r="3.30" fill="#fff" stroke="#555" stroke-width="1"/>
<circle cx="1729.59" cy="271.21" r="3.30" fill="#fff" stroke="#555" stroke-width="1"/>
<circle cx="1737.04" cy="272.23" r="3.30" fill="#fff" stroke="#555" stroke-width="1"/>
<circle cx="1744.49" cy="273.24" r="3.30" fill="#fff" stroke="#555" stroke-width="1"/>
<circle cx="1751.94" cy="274.26" r="3.30" fill="#fff" stroke="#555" stroke-width="1"/>
<circle cx="1759.38" cy="275.27" r="3.30" fill="#fff" stroke="#555" stroke-width="1"/>
<circle cx="1766.83" cy="276.28" r="3.30" fill="#fff" stroke="#555" stroke-width="1"/>
<circle cx="1774.28" cy="277.30" r="3.30" fill="#fff" stroke="#555" stroke-width="1"/>
<circle cx="1781.72" cy="278.31" r="3.30" fill="#fff" stroke="#555" stroke-width="1"/>
<circle cx="1789.17" cy="279.33" r="3.30" fill="#fff" stroke="#555" stroke-width="1"/>
<circle cx="1796.62" cy="280.34" r="3.30" fill="#fff" stroke="#555" stroke-width="1"/>
<circle cx="1804.07" cy="281.36" r="3.30" fill="#fff" stroke="#555" stroke-width="1"/>
<circle cx="1811.51" cy="282.37" r="3.30" fill="#fff" stroke="#555" stroke-width="1"/>
<circle cx="1818.96" cy="283.39" r="3.30" fill="#fff" stroke="#555" stroke-width="1"/>
<circle cx="1826.41" cy="284.40" r="3.30" fill="#fff" stroke="#555" stroke-width="1"/>
<circle cx="1833.86" cy="285.42" r="3.30" fill="#fff" stroke="#555" stroke-width="1"/>
<circle cx="1841.30" cy="286.43" r="3.30" fill="#fff" stroke="#555" stroke-width="1"/>
<circle cx="1848.75" cy="287.45" r="3.30" fill="#fff" stroke="#555" stroke-width="1"/>
<circle cx="1856.20" cy="288.46" r="3.30" fill="#fff" stroke="#555" stroke-width="1"/>
<circle cx="1863.64" cy="289.48" r="3.30" fill="#fff" stroke="#555" stroke-width="1"/>
<circle cx="1871.09" cy="290.49" r="3.30" fill="#fff" stroke="#555" stroke-width="1"/>
<circle cx="1878.54" cy="291.51" r="3.30" fill="#fff" stroke="#555" stroke-width="1"/>
<circle cx="1885.99" cy="292.52" r="3.30" fill="#fff" stroke="#555" stroke-width="1"/>
<circle cx="1893.43" cy="293.54" r="3.30" fill="#fff" stroke="#555" stroke-width="1"/>
<circle cx="1900.88" cy="294.55" r="3.30" fill="#fff" stroke="#555" stroke-width="1"/>
<circle cx="1908.33" cy="295.57" r="3.30" fill="#fff" stroke="#555" stroke-width="1"/>
<circle cx="1915.78" cy="296.58" r="3.30" fill="#fff" stroke="#555" stroke-width="1"/>
<circle cx="1923.22" cy="297.60" r="3.30" fill="#fff" stroke="#555" stroke-width="1"/>
<circle cx="1930.67" cy="298.61" r="3.30" fill="#fff" stroke="#555" stroke-width="1"/>
<circle cx="1938.12" cy="299.63" r="3.30" fill="#fff" stroke="#555" stroke-width="1"/>
<circle cx="1945.56" cy="300.64" r="3.30" fill="#fff" stroke="#555" stroke-width="1"/>
<circle cx="1953.01" cy="301.66" r="3.30" fill="#fff" stroke="#555" stroke-width="1"/>
<circle cx="1960.46" cy="302.67" r="3.30" fill="#fff" stroke="#555" stroke-width="1"/>
<circle cx="1967.91" cy="303.68" r="3.30" fill="#fff" stroke="#555" stroke-width="1"/>
<circle cx="1975.35" cy="304.70" r="3.30" fill="#fff" stroke="#555" stroke-width="1"/>
<circle cx="1982.80" cy="305.71" r="3.30" fill="#fff" stroke="#555" stroke-width="1"/>
<circle cx="1446.00" cy="77.90" r="3.30" fill="#fff" stroke="#555" stroke-width="1"/><path d="M1442.20,77.90 A3.8,3.8 0 0 1 1449.80,77.90 Z" fill="#3c3c38"/>
<circle cx="1453.45" cy="83.15" r="3.30" fill="#fff" stroke="#555" stroke-width="1"/><path d="M1449.65,83.15 A3.8,3.8 0 0 1 1457.25,83.15 Z" fill="#3c3c38"/>
<circle cx="1460.89" cy="88.39" r="3.30" fill="#fff" stroke="#555" stroke-width="1"/><path d="M1457.09,88.39 A3.8,3.8 0 0 1 1464.69,88.39 Z" fill="#3c3c38"/>
<circle cx="1468.34" cy="93.64" r="3.30" fill="#fff" stroke="#555" stroke-width="1"/><path d="M1464.54,93.64 A3.8,3.8 0 0 1 1472.14,93.64 Z" fill="#3c3c38"/>
<circle cx="1475.79" cy="98.89" r="3.30" fill="#fff" stroke="#555" stroke-width="1"/><path d="M1471.99,98.89 A3.8,3.8 0 0 1 1479.59,98.89 Z" fill="#3c3c38"/>
<circle cx="1483.24" cy="104.13" r="3.30" fill="#fff" stroke="#555" stroke-width="1"/><path d="M1479.44,104.13 A3.8,3.8 0 0 1 1487.04,104.13 Z" fill="#3c3c38"/>
<circle cx="1490.68" cy="109.38" r="3.30" fill="#fff" stroke="#555" stroke-width="1"/><path d="M1486.88,109.38 A3.8,3.8 0 0 1 1494.48,109.38 Z" fill="#3c3c38"/>
<circle cx="1498.13" cy="114.63" r="3.30" fill="#fff" stroke="#555" stroke-width="1"/><path d="M1494.33,114.63 A3.8,3.8 0 0 1 1501.93,114.63 Z" fill="#3c3c38"/>
<circle cx="1505.58" cy="119.87" r="3.30" fill="#fff" stroke="#555" stroke-width="1"/><path d="M1501.78,119.87 A3.8,3.8 0 0 1 1509.38,119.87 Z" fill="#3c3c38"/>
<circle cx="1513.03" cy="125.12" r="3.30" fill="#fff" stroke="#555" stroke-width="1"/><path d="M1509.23,125.12 A3.8,3.8 0 0 1 1516.83,125.12 Z" fill="#3c3c38"/>
<circle cx="1520.47" cy="130.37" r="3.30" fill="#fff" stroke="#555" stroke-width="1"/><path d="M1516.67,130.37 A3.8,3.8 0 0 1 1524.27,130.37 Z" fill="#3c3c38"/>
<circle cx="1527.92" cy="135.61" r="3.30" fill="#fff" stroke="#555" stroke-width="1"/><path d="M1524.12,135.61 A3.8,3.8 0 0 1 1531.72,135.61 Z" fill="#3c3c38"/>
<circle cx="1535.37" cy="140.86" r="3.30" fill="#fff" stroke="#555" stroke-width="1"/><path d="M1531.57,140.86 A3.8,3.8 0 0 1 1539.17,140.86 Z" fill="#3c3c38"/>
<circle cx="1542.81" cy="146.11" r="3.30" fill="#fff" stroke="#555" stroke-width="1"/><path d="M1539.01,146.11 A3.8,3.8 0 0 1 1546.61,146.11 Z" fill="#3c3c38"/>
<circle cx="1550.26" cy="151.35" r="3.30" fill="#fff" stroke="#555" stroke-width="1"/><path d="M1546.46,151.35 A3.8,3.8 0 0 1 1554.06,151.35 Z" fill="#3c3c38"/>
<circle cx="1557.71" cy="156.60" r="3.30" fill="#fff" stroke="#555" stroke-width="1"/><path d="M1553.91,156.60 A3.8,3.8 0 0 1 1561.51,156.60 Z" fill="#3c3c38"/>
<circle cx="1565.16" cy="161.85" r="3.30" fill="#fff" stroke="#555" stroke-width="1"/><path d="M1561.36,161.85 A3.8,3.8 0 0 1 1568.96,161.85 Z" fill="#3c3c38"/>
<circle cx="1572.60" cy="167.09" r="3.30" fill="#fff" stroke="#555" stroke-width="1"/><path d="M1568.80,167.09 A3.8,3.8 0 0 1 1576.40,167.09 Z" fill="#3c3c38"/>
<circle cx="1580.05" cy="172.34" r="3.30" fill="#fff" stroke="#555" stroke-width="1"/><path d="M1576.25,172.34 A3.8,3.8 0 0 1 1583.85,172.34 Z" fill="#3c3c38"/>
<circle cx="1587.50" cy="177.59" r="3.30" fill="#fff" stroke="#555" stroke-width="1"/><path d="M1583.70,177.59 A3.8,3.8 0 0 1 1591.30,177.59 Z" fill="#3c3c38"/>
<circle cx="1594.94" cy="182.83" r="3.30" fill="#fff" stroke="#555" stroke-width="1"/><path d="M1591.14,182.83 A3.8,3.8 0 0 1 1598.74,182.83 Z" fill="#3c3c38"/>
<circle cx="1602.39" cy="188.08" r="3.30" fill="#fff" stroke="#555" stroke-width="1"/><path d="M1598.59,188.08 A3.8,3.8 0 0 1 1606.19,188.08 Z" fill="#3c3c38"/>
<circle cx="1609.84" cy="193.33" r="3.30" fill="#fff" stroke="#555" stroke-width="1"/><path d="M1606.04,193.33 A3.8,3.8 0 0 1 1613.64,193.33 Z" fill="#3c3c38"/>
<circle cx="1617.29" cy="198.57" r="3.30" fill="#fff" stroke="#555" stroke-width="1"/><path d="M1613.49,198.57 A3.8,3.8 0 0 1 1621.09,198.57 Z" fill="#3c3c38"/>
<circle cx="1624.73" cy="203.82" r="3.30" fill="#fff" stroke="#555" stroke-width="1"/><path d="M1620.93,203.82 A3.8,3.8 0 0 1 1628.53,203.82 Z" fill="#3c3c38"/>
<circle cx="1632.18" cy="209.07" r="3.30" fill="#fff" stroke="#555" stroke-width="1"/><path d="M1628.38,209.07 A3.8,3.8 0 0 1 1635.98,209.07 Z" fill="#3c3c38"/>
<circle cx="1639.63" cy="214.31" r="3.30" fill="#fff" stroke="#555" stroke-width="1"/><path d="M1635.83,214.31 A3.8,3.8 0 0 1 1643.43,214.31 Z" fill="#3c3c38"/>
<circle cx="1647.08" cy="219.56" r="3.30" fill="#fff" stroke="#555" stroke-width="1"/><path d="M1643.28,219.56 A3.8,3.8 0 0 1 1650.88,219.56 Z" fill="#3c3c38"/>
<circle cx="1654.52" cy="224.81" r="3.30" fill="#fff" stroke="#555" stroke-width="1"/><path d="M1650.72,224.81 A3.8,3.8 0 0 1 1658.32,224.81 Z" fill="#3c3c38"/>
<circle cx="1661.97" cy="230.05" r="3.30" fill="#fff" stroke="#555" stroke-width="1"/><path d="M1658.17,230.05 A3.8,3.8 0 0 1 1665.77,230.05 Z" fill="#3c3c38"/>
<circle cx="1669.42" cy="235.30" r="3.30" fill="#fff" stroke="#555" stroke-width="1"/><path d="M1665.62,235.30 A3.8,3.8 0 0 1 1673.22,235.30 Z" fill="#3c3c38"/>
<circle cx="1676.86" cy="240.55" r="3.30" fill="#fff" stroke="#555" stroke-width="1"/><path d="M1673.06,240.55 A3.8,3.8 0 0 1 1680.66,240.55 Z" fill="#3c3c38"/>
<circle cx="1684.31" cy="245.79" r="3.30" fill="#fff" stroke="#555" stroke-width="1"/><path d="M1680.51,245.79 A3.8,3.8 0 0 1 1688.11,245.79 Z" fill="#3c3c38"/>
<circle cx="1691.76" cy="251.04" r="3.30" fill="#fff" stroke="#555" stroke-width="1"/><path d="M1687.96,251.04 A3.8,3.8 0 0 1 1695.56,251.04 Z" fill="#3c3c38"/>
<circle cx="1699.21" cy="256.29" r="3.30" fill="#fff" stroke="#555" stroke-width="1"/><path d="M1695.41,256.29 A3.8,3.8 0 0 1 1703.01,256.29 Z" fill="#3c3c38"/>
<circle cx="1706.65" cy="261.53" r="3.30" fill="#fff" stroke="#555" stroke-width="1"/><path d="M1702.85,261.53 A3.8,3.8 0 0 1 1710.45,261.53 Z" fill="#3c3c38"/>
<circle cx="1714.10" cy="266.78" r="3.30" fill="#fff" stroke="#555" stroke-width="1"/><path d="M1710.30,266.78 A3.8,3.8 0 0 1 1717.90,266.78 Z" fill="#3c3c38"/>
<circle cx="1721.55" cy="267.80" r="3.30" fill="#fff" stroke="#555" stroke-width="1"/><path d="M1717.75,267.80 A3.8,3.8 0 0 1 1725.35,267.80 Z" fill="#3c3c38"/>
<circle cx="1728.99" cy="268.81" r="3.30" fill="#fff" stroke="#555" stroke-width="1"/><path d="M1725.19,268.81 A3.8,3.8 0 0 1 1732.79,268.81 Z" fill="#3c3c38"/>
<circle cx="1736.44" cy="269.83" r="3.30" fill="#fff" stroke="#555" stroke-width="1"/><path d="M1732.64,269.83 A3.8,3.8 0 0 1 1740.24,269.83 Z" fill="#3c3c38"/>
<circle cx="1743.89" cy="270.84" r="3.30" fill="#fff" stroke="#555" stroke-width="1"/><path d="M1740.09,270.84 A3.8,3.8 0 0 1 1747.69,270.84 Z" fill="#3c3c38"/>
<circle cx="1751.34" cy="271.86" r="3.30" fill="#fff" stroke="#555" stroke-width="1"/><path d="M1747.54,271.86 A3.8,3.8 0 0 1 1755.14,271.86 Z" fill="#3c3c38"/>
<circle cx="1758.78" cy="272.87" r="3.30" fill="#fff" stroke="#555" stroke-width="1"/><path d="M1754.98,272.87 A3.8,3.8 0 0 1 1762.58,272.87 Z" fill="#3c3c38"/>
<circle cx="1766.23" cy="273.88" r="3.30" fill="#fff" stroke="#555" stroke-width="1"/><path d="M1762.43,273.88 A3.8,3.8 0 0 1 1770.03,273.88 Z" fill="#3c3c38"/>
<circle cx="1773.68" cy="274.90" r="3.30" fill="#fff" stroke="#555" stroke-width="1"/><path d="M1769.88,274.90 A3.8,3.8 0 0 1 1777.48,274.90 Z" fill="#3c3c38"/>
<circle cx="1781.12" cy="275.91" r="3.30" fill="#fff" stroke="#555" stroke-width="1"/><path d="M1777.33,275.91 A3.8,3.8 0 0 1 1784.92,275.91 Z" fill="#3c3c38"/>
<circle cx="1788.57" cy="276.93" r="3.30" fill="#fff" stroke="#555" stroke-width="1"/><path d="M1784.77,276.93 A3.8,3.8 0 0 1 1792.37,276.93 Z" fill="#3c3c38"/>
<circle cx="1796.02" cy="277.94" r="3.30" fill="#fff" stroke="#555" stroke-width="1"/><path d="M1792.22,277.94 A3.8,3.8 0 0 1 1799.82,277.94 Z" fill="#3c3c38"/>
<circle cx="1803.47" cy="278.96" r="3.30" fill="#fff" stroke="#555" stroke-width="1"/><path d="M1799.67,278.96 A3.8,3.8 0 0 1 1807.27,278.96 Z" fill="#3c3c38"/>
<circle cx="1810.91" cy="279.97" r="3.30" fill="#fff" stroke="#555" stroke-width="1"/><path d="M1807.11,279.97 A3.8,3.8 0 0 1 1814.71,279.97 Z" fill="#3c3c38"/>
<circle cx="1818.36" cy="280.99" r="3.30" fill="#fff" stroke="#555" stroke-width="1"/><path d="M1814.56,280.99 A3.8,3.8 0 0 1 1822.16,280.99 Z" fill="#3c3c38"/>
<circle cx="1825.81" cy="282.00" r="3.30" fill="#fff" stroke="#555" stroke-width="1"/><path d="M1822.01,282.00 A3.8,3.8 0 0 1 1829.61,282.00 Z" fill="#3c3c38"/>
<circle cx="1833.26" cy="283.02" r="3.30" fill="#fff" stroke="#555" stroke-width="1"/><path d="M1829.46,283.02 A3.8,3.8 0 0 1 1837.06,283.02 Z" fill="#3c3c38"/>
<circle cx="1840.70" cy="284.03" r="3.30" fill="#fff" stroke="#555" stroke-width="1"/><path d="M1836.90,284.03 A3.8,3.8 0 0 1 1844.50,284.03 Z" fill="#3c3c38"/>
<circle cx="1848.15" cy="285.05" r="3.30" fill="#fff" stroke="#555" stroke-width="1"/><path d="M1844.35,285.05 A3.8,3.8 0 0 1 1851.95,285.05 Z" fill="#3c3c38"/>
<circle cx="1855.60" cy="286.06" r="3.30" fill="#fff" stroke="#555" stroke-width="1"/><path d="M1851.80,286.06 A3.8,3.8 0 0 1 1859.40,286.06 Z" fill="#3c3c38"/>
<circle cx="1863.04" cy="287.08" r="3.30" fill="#fff" stroke="#555" stroke-width="1"/><path d="M1859.24,287.08 A3.8,3.8 0 0 1 1866.84,287.08 Z" fill="#3c3c38"/>
<circle cx="1870.49" cy="288.09" r="3.30" fill="#fff" stroke="#555" stroke-width="1"/><path d="M1866.69,288.09 A3.8,3.8 0 0 1 1874.29,288.09 Z" fill="#3c3c38"/>
<circle cx="1877.94" cy="289.11" r="3.30" fill="#fff" stroke="#555" stroke-width="1"/><path d="M1874.14,289.11 A3.8,3.8 0 0 1 1881.74,289.11 Z" fill="#3c3c38"/>
<circle cx="1885.39" cy="290.12" r="3.30" fill="#fff" stroke="#555" stroke-width="1"/><path d="M1881.59,290.12 A3.8,3.8 0 0 1 1889.19,290.12 Z" fill="#3c3c38"/>
<circle cx="1892.83" cy="291.14" r="3.30" fill="#fff" stroke="#555" stroke-width="1"/><path d="M1889.03,291.14 A3.8,3.8 0 0 1 1896.63,291.14 Z" fill="#3c3c38"/>
<circle cx="1900.28" cy="292.15" r="3.30" fill="#fff" stroke="#555" stroke-width="1"/><path d="M1896.48,292.15 A3.8,3.8 0 0 1 1904.08,292.15 Z" fill="#3c3c38"/>
<circle cx="1907.73" cy="293.17" r="3.30" fill="#fff" stroke="#555" stroke-width="1"/><path d="M1903.93,293.17 A3.8,3.8 0 0 1 1911.53,293.17 Z" fill="#3c3c38"/>
<circle cx="1915.18" cy="294.18" r="3.30" fill="#fff" stroke="#555" stroke-width="1"/><path d="M1911.38,294.18 A3.8,3.8 0 0 1 1918.98,294.18 Z" fill="#3c3c38"/>
<circle cx="1922.62" cy="295.20" r="3.30" fill="#fff" stroke="#555" stroke-width="1"/><path d="M1918.82,295.20 A3.8,3.8 0 0 1 1926.42,295.20 Z" fill="#3c3c38"/>
<circle cx="1930.07" cy="296.21" r="3.30" fill="#fff" stroke="#555" stroke-width="1"/><path d="M1926.27,296.21 A3.8,3.8 0 0 1 1933.87,296.21 Z" fill="#3c3c38"/>
<circle cx="1937.52" cy="297.23" r="3.30" fill="#fff" stroke="#555" stroke-width="1"/><path d="M1933.72,297.23 A3.8,3.8 0 0 1 1941.32,297.23 Z" fill="#3c3c38"/>
<circle cx="1944.96" cy="298.24" r="3.30" fill="#fff" stroke="#555" stroke-width="1"/><path d="M1941.16,298.24 A3.8,3.8 0 0 1 1948.76,298.24 Z" fill="#3c3c38"/>
<circle cx="1952.41" cy="299.26" r="3.30" fill="#fff" stroke="#555" stroke-width="1"/><path d="M1948.61,299.26 A3.8,3.8 0 0 1 1956.21,299.26 Z" fill="#3c3c38"/>
<circle cx="1959.86" cy="300.27" r="3.30" fill="#fff" stroke="#555" stroke-width="1"/><path d="M1956.06,300.27 A3.8,3.8 0 0 1 1963.66,300.27 Z" fill="#3c3c38"/>
<circle cx="1967.31" cy="301.28" r="3.30" fill="#fff" stroke="#555" stroke-width="1"/><path d="M1963.51,301.28 A3.8,3.8 0 0 1 1971.11,301.28 Z" fill="#3c3c38"/>
<circle cx="1974.75" cy="302.30" r="3.30" fill="#fff" stroke="#555" stroke-width="1"/><path d="M1970.95,302.30 A3.8,3.8 0 0 1 1978.55,302.30 Z" fill="#3c3c38"/>
<circle cx="1982.20" cy="303.31" r="3.30" fill="#fff" stroke="#555" stroke-width="1"/><path d="M1978.40,303.31 A3.8,3.8 0 0 1 1986.00,303.31 Z" fill="#3c3c38"/>
<path d="M1446.00,79.40 L1453.45,82.14 L1460.89,84.91 L1468.34,87.70 L1475.79,90.52 L1483.24,93.37 L1490.68,96.24 L1498.13,99.15 L1505.58,102.08 L1513.03,105.03 L1520.47,108.02 L1527.92,111.03 L1535.37,114.07 L1542.81,117.14 L1550.26,120.23 L1557.71,123.35 L1565.16,126.50 L1572.60,129.67 L1580.05,132.88 L1587.50,136.11 L1594.94,139.36 L1602.39,142.65 L1609.84,145.96 L1617.29,149.30 L1624.73,152.66 L1632.18,156.06 L1639.63,159.48 L1647.08,162.92 L1654.52,166.40 L1661.97,169.90 L1669.42,173.43 L1676.86,176.99 L1684.31,180.57 L1691.76,184.18 L1699.21,187.82 L1706.65,191.49 L1714.10,195.18 L1721.55,196.47 L1728.99,197.75 L1736.44,199.03 L1743.89,200.32 L1751.34,201.60 L1758.78,202.88 L1766.23,204.17 L1773.68,205.45 L1781.12,206.74 L1788.57,208.02 L1796.02,209.30 L1803.47,210.59 L1810.91,211.87 L1818.36,213.15 L1825.81,214.44 L1833.26,215.72 L1840.70,217.01 L1848.15,218.29 L1855.60,219.57 L1863.04,220.86 L1870.49,222.14 L1877.94,223.42 L1885.39,224.71 L1892.83,225.99 L1900.28,227.28 L1907.73,228.56 L1915.18,229.84 L1922.62,231.13 L1930.07,232.41 L1937.52,233.69 L1944.96,234.98 L1952.41,236.26 L1959.86,237.54 L1967.31,238.83 L1974.75,240.11 L1982.20,241.40" fill="none" stroke="#1f78e6" stroke-width="1.2"/>
<polygon points="1446.80,77.38 1450.80,84.58 1442.80,84.58" fill="#fff" fill-opacity="0.6" stroke="#7ab4f0" stroke-width="1.1"/>
<polygon points="1454.25,80.12 1458.25,87.32 1450.25,87.32" fill="#fff" fill-opacity="0.6" stroke="#7ab4f0" stroke-width="1.1"/>
<polygon points="1461.69,82.89 1465.69,90.09 1457.69,90.09" fill="#fff" fill-opacity="0.6" stroke="#7ab4f0" stroke-width="1.1"/>
<polygon points="1469.14,85.68 1473.14,92.88 1465.14,92.88" fill="#fff" fill-opacity="0.6" stroke="#7ab4f0" stroke-width="1.1"/>
<polygon points="1476.59,88.50 1480.59,95.70 1472.59,95.70" fill="#fff" fill-opacity="0.6" stroke="#7ab4f0" stroke-width="1.1"/>
<polygon points="1484.04,91.35 1488.04,98.55 1480.04,98.55" fill="#fff" fill-opacity="0.6" stroke="#7ab4f0" stroke-width="1.1"/>
<polygon points="1491.48,94.22 1495.48,101.42 1487.48,101.42" fill="#fff" fill-opacity="0.6" stroke="#7ab4f0" stroke-width="1.1"/>
<polygon points="1498.93,97.13 1502.93,104.33 1494.93,104.33" fill="#fff" fill-opacity="0.6" stroke="#7ab4f0" stroke-width="1.1"/>
<polygon points="1506.38,100.06 1510.38,107.26 1502.38,107.26" fill="#fff" fill-opacity="0.6" stroke="#7ab4f0" stroke-width="1.1"/>
<polygon points="1513.83,103.01 1517.83,110.21 1509.83,110.21" fill="#fff" fill-opacity="0.6" stroke="#7ab4f0" stroke-width="1.1"/>
<polygon points="1521.27,106.00 1525.27,113.20 1517.27,113.20" fill="#fff" fill-opacity="0.6" stroke="#7ab4f0" stroke-width="1.1"/>
<polygon points="1528.72,109.01 1532.72,116.21 1524.72,116.21" fill="#fff" fill-opacity="0.6" stroke="#7ab4f0" stroke-width="1.1"/>
<polygon points="1536.17,112.05 1540.17,119.25 1532.17,119.25" fill="#fff" fill-opacity="0.6" stroke="#7ab4f0" stroke-width="1.1"/>
<polygon points="1543.61,115.12 1547.61,122.32 1539.61,122.32" fill="#fff" fill-opacity="0.6" stroke="#7ab4f0" stroke-width="1.1"/>
<polygon points="1551.06,118.21 1555.06,125.41 1547.06,125.41" fill="#fff" fill-opacity="0.6" stroke="#7ab4f0" stroke-width="1.1"/>
<polygon points="1558.51,121.33 1562.51,128.53 1554.51,128.53" fill="#fff" fill-opacity="0.6" stroke="#7ab4f0" stroke-width="1.1"/>
<polygon points="1565.96,124.48 1569.96,131.68 1561.96,131.68" fill="#fff" fill-opacity="0.6" stroke="#7ab4f0" stroke-width="1.1"/>
<polygon points="1573.40,127.65 1577.40,134.85 1569.40,134.85" fill="#fff" fill-opacity="0.6" stroke="#7ab4f0" stroke-width="1.1"/>
<polygon points="1580.85,130.86 1584.85,138.06 1576.85,138.06" fill="#fff" fill-opacity="0.6" stroke="#7ab4f0" stroke-width="1.1"/>
<polygon points="1588.30,134.09 1592.30,141.29 1584.30,141.29" fill="#fff" fill-opacity="0.6" stroke="#7ab4f0" stroke-width="1.1"/>
<polygon points="1595.74,137.34 1599.74,144.54 1591.74,144.54" fill="#fff" fill-opacity="0.6" stroke="#7ab4f0" stroke-width="1.1"/>
<polygon points="1603.19,140.63 1607.19,147.83 1599.19,147.83" fill="#fff" fill-opacity="0.6" stroke="#7ab4f0" stroke-width="1.1"/>
<polygon points="1610.64,143.94 1614.64,151.14 1606.64,151.14" fill="#fff" fill-opacity="0.6" stroke="#7ab4f0" stroke-width="1.1"/>
<polygon points="1618.09,147.28 1622.09,154.48 1614.09,154.48" fill="#fff" fill-opacity="0.6" stroke="#7ab4f0" stroke-width="1.1"/>
<polygon points="1625.53,150.64 1629.53,157.84 1621.53,157.84" fill="#fff" fill-opacity="0.6" stroke="#7ab4f0" stroke-width="1.1"/>
<polygon points="1632.98,154.04 1636.98,161.24 1628.98,161.24" fill="#fff" fill-opacity="0.6" stroke="#7ab4f0" stroke-width="1.1"/>
<polygon points="1640.43,157.46 1644.43,164.66 1636.43,164.66" fill="#fff" fill-opacity="0.6" stroke="#7ab4f0" stroke-width="1.1"/>
<polygon points="1647.88,160.90 1651.88,168.10 1643.88,168.10" fill="#fff" fill-opacity="0.6" stroke="#7ab4f0" stroke-width="1.1"/>
<polygon points="1655.32,164.38 1659.32,171.58 1651.32,171.58" fill="#fff" fill-opacity="0.6" stroke="#7ab4f0" stroke-width="1.1"/>
<polygon points="1662.77,167.88 1666.77,175.08 1658.77,175.08" fill="#fff" fill-opacity="0.6" stroke="#7ab4f0" stroke-width="1.1"/>
<polygon points="1670.22,171.41 1674.22,178.61 1666.22,178.61" fill="#fff" fill-opacity="0.6" stroke="#7ab4f0" stroke-width="1.1"/>
<polygon points="1677.66,174.97 1681.66,182.17 1673.66,182.17" fill="#fff" fill-opacity="0.6" stroke="#7ab4f0" stroke-width="1.1"/>
<polygon points="1685.11,178.55 1689.11,185.75 1681.11,185.75" fill="#fff" fill-opacity="0.6" stroke="#7ab4f0" stroke-width="1.1"/>
<polygon points="1692.56,182.16 1696.56,189.36 1688.56,189.36" fill="#fff" fill-opacity="0.6" stroke="#7ab4f0" stroke-width="1.1"/>
<polygon points="1700.01,185.80 1704.01,193.00 1696.01,193.00" fill="#fff" fill-opacity="0.6" stroke="#7ab4f0" stroke-width="1.1"/>
<polygon points="1707.45,189.47 1711.45,196.67 1703.45,196.67" fill="#fff" fill-opacity="0.6" stroke="#7ab4f0" stroke-width="1.1"/>
<polygon points="1714.90,193.16 1718.90,200.36 1710.90,200.36" fill="#fff" fill-opacity="0.6" stroke="#7ab4f0" stroke-width="1.1"/>
<polygon points="1722.35,194.45 1726.35,201.65 1718.35,201.65" fill="#fff" fill-opacity="0.6" stroke="#7ab4f0" stroke-width="1.1"/>
<polygon points="1729.79,195.73 1733.79,202.93 1725.79,202.93" fill="#fff" fill-opacity="0.6" stroke="#7ab4f0" stroke-width="1.1"/>
<polygon points="1737.24,197.01 1741.24,204.21 1733.24,204.21" fill="#fff" fill-opacity="0.6" stroke="#7ab4f0" stroke-width="1.1"/>
<polygon points="1744.69,198.30 1748.69,205.50 1740.69,205.50" fill="#fff" fill-opacity="0.6" stroke="#7ab4f0" stroke-width="1.1"/>
<polygon points="1752.14,199.58 1756.14,206.78 1748.14,206.78" fill="#fff" fill-opacity="0.6" stroke="#7ab4f0" stroke-width="1.1"/>
<polygon points="1759.58,200.86 1763.58,208.06 1755.58,208.06" fill="#fff" fill-opacity="0.6" stroke="#7ab4f0" stroke-width="1.1"/>
<polygon points="1767.03,202.15 1771.03,209.35 1763.03,209.35" fill="#fff" fill-opacity="0.6" stroke="#7ab4f0" stroke-width="1.1"/>
<polygon points="1774.48,203.43 1778.48,210.63 1770.48,210.63" fill="#fff" fill-opacity="0.6" stroke="#7ab4f0" stroke-width="1.1"/>
<polygon points="1781.92,204.72 1785.92,211.92 1777.92,211.92" fill="#fff" fill-opacity="0.6" stroke="#7ab4f0" stroke-width="1.1"/>
<polygon points="1789.37,206.00 1793.37,213.20 1785.37,213.20" fill="#fff" fill-opacity="0.6" stroke="#7ab4f0" stroke-width="1.1"/>
<polygon points="1796.82,207.28 1800.82,214.48 1792.82,214.48" fill="#fff" fill-opacity="0.6" stroke="#7ab4f0" stroke-width="1.1"/>
<polygon points="1804.27,208.57 1808.27,215.77 1800.27,215.77" fill="#fff" fill-opacity="0.6" stroke="#7ab4f0" stroke-width="1.1"/>
<polygon points="1811.71,209.85 1815.71,217.05 1807.71,217.05" fill="#fff" fill-opacity="0.6" stroke="#7ab4f0" stroke-width="1.1"/>
<polygon points="1819.16,211.13 1823.16,218.33 1815.16,218.33" fill="#fff" fill-opacity="0.6" stroke="#7ab4f0" stroke-width="1.1"/>
<polygon points="1826.61,212.42 1830.61,219.62 1822.61,219.62" fill="#fff" fill-opacity="0.6" stroke="#7ab4f0" stroke-width="1.1"/>
<polygon points="1834.06,213.70 1838.06,220.90 1830.06,220.90" fill="#fff" fill-opacity="0.6" stroke="#7ab4f0" stroke-width="1.1"/>
<polygon points="1841.50,214.99 1845.50,222.19 1837.50,222.19" fill="#fff" fill-opacity="0.6" stroke="#7ab4f0" stroke-width="1.1"/>
<polygon points="1848.95,216.27 1852.95,223.47 1844.95,223.47" fill="#fff" fill-opacity="0.6" stroke="#7ab4f0" stroke-width="1.1"/>
<polygon points="1856.40,217.55 1860.40,224.75 1852.40,224.75" fill="#fff" fill-opacity="0.6" stroke="#7ab4f0" stroke-width="1.1"/>
<polygon points="1863.84,218.84 1867.84,226.04 1859.84,226.04" fill="#fff" fill-opacity="0.6" stroke="#7ab4f0" stroke-width="1.1"/>
<polygon points="1871.29,220.12 1875.29,227.32 1867.29,227.32" fill="#fff" fill-opacity="0.6" stroke="#7ab4f0" stroke-width="1.1"/>
<polygon points="1878.74,221.40 1882.74,228.60 1874.74,228.60" fill="#fff" fill-opacity="0.6" stroke="#7ab4f0" stroke-width="1.1"/>
<polygon points="1886.19,222.69 1890.19,229.89 1882.19,229.89" fill="#fff" fill-opacity="0.6" stroke="#7ab4f0" stroke-width="1.1"/>
<polygon points="1893.63,223.97 1897.63,231.17 1889.63,231.17" fill="#fff" fill-opacity="0.6" stroke="#7ab4f0" stroke-width="1.1"/>
<polygon points="1901.08,225.26 1905.08,232.46 1897.08,232.46" fill="#fff" fill-opacity="0.6" stroke="#7ab4f0" stroke-width="1.1"/>
<polygon points="1908.53,226.54 1912.53,233.74 1904.53,233.74" fill="#fff" fill-opacity="0.6" stroke="#7ab4f0" stroke-width="1.1"/>
<polygon points="1915.98,227.82 1919.98,235.02 1911.98,235.02" fill="#fff" fill-opacity="0.6" stroke="#7ab4f0" stroke-width="1.1"/>
<polygon points="1923.42,229.11 1927.42,236.31 1919.42,236.31" fill="#fff" fill-opacity="0.6" stroke="#7ab4f0" stroke-width="1.1"/>
<polygon points="1930.87,230.39 1934.87,237.59 1926.87,237.59" fill="#fff" fill-opacity="0.6" stroke="#7ab4f0" stroke-width="1.1"/>
<polygon points="1938.32,231.67 1942.32,238.87 1934.32,238.87" fill="#fff" fill-opacity="0.6" stroke="#7ab4f0" stroke-width="1.1"/>
<polygon points="1945.76,232.96 1949.76,240.16 1941.76,240.16" fill="#fff" fill-opacity="0.6" stroke="#7ab4f0" stroke-width="1.1"/>
<polygon points="1953.21,234.24 1957.21,241.44 1949.21,241.44" fill="#fff" fill-opacity="0.6" stroke="#7ab4f0" stroke-width="1.1"/>
<polygon points="1960.66,235.52 1964.66,242.72 1956.66,242.72" fill="#fff" fill-opacity="0.6" stroke="#7ab4f0" stroke-width="1.1"/>
<polygon points="1968.11,236.81 1972.11,244.01 1964.11,244.01" fill="#fff" fill-opacity="0.6" stroke="#7ab4f0" stroke-width="1.1"/>
<polygon points="1975.55,238.09 1979.55,245.29 1971.55,245.29" fill="#fff" fill-opacity="0.6" stroke="#7ab4f0" stroke-width="1.1"/>
<polygon points="1983.00,239.38 1987.00,246.58 1979.00,246.58" fill="#fff" fill-opacity="0.6" stroke="#7ab4f0" stroke-width="1.1"/>
<polygon points="1446.00,73.58 1450.00,80.78 1442.00,80.78" fill="#1f78e6"/>
<polygon points="1453.45,76.32 1457.45,83.52 1449.45,83.52" fill="#1f78e6"/>
<polygon points="1460.89,79.09 1464.89,86.29 1456.89,86.29" fill="#1f78e6"/>
<polygon points="1468.34,81.88 1472.34,89.08 1464.34,89.08" fill="#1f78e6"/>
<polygon points="1475.79,84.70 1479.79,91.90 1471.79,91.90" fill="#1f78e6"/>
<polygon points="1483.24,87.55 1487.24,94.75 1479.24,94.75" fill="#1f78e6"/>
<polygon points="1490.68,90.42 1494.68,97.62 1486.68,97.62" fill="#1f78e6"/>
<polygon points="1498.13,93.33 1502.13,100.53 1494.13,100.53" fill="#1f78e6"/>
<polygon points="1505.58,96.26 1509.58,103.46 1501.58,103.46" fill="#1f78e6"/>
<polygon points="1513.03,99.21 1517.03,106.41 1509.03,106.41" fill="#1f78e6"/>
<polygon points="1520.47,102.20 1524.47,109.40 1516.47,109.40" fill="#1f78e6"/>
<polygon points="1527.92,105.21 1531.92,112.41 1523.92,112.41" fill="#1f78e6"/>
<polygon points="1535.37,108.25 1539.37,115.45 1531.37,115.45" fill="#1f78e6"/>
<polygon points="1542.81,111.32 1546.81,118.52 1538.81,118.52" fill="#1f78e6"/>
<polygon points="1550.26,114.41 1554.26,121.61 1546.26,121.61" fill="#1f78e6"/>
<polygon points="1557.71,117.53 1561.71,124.73 1553.71,124.73" fill="#1f78e6"/>
<polygon points="1565.16,120.68 1569.16,127.88 1561.16,127.88" fill="#1f78e6"/>
<polygon points="1572.60,123.85 1576.60,131.05 1568.60,131.05" fill="#1f78e6"/>
<polygon points="1580.05,127.06 1584.05,134.26 1576.05,134.26" fill="#1f78e6"/>
<polygon points="1587.50,130.29 1591.50,137.49 1583.50,137.49" fill="#1f78e6"/>
<polygon points="1594.94,133.54 1598.94,140.74 1590.94,140.74" fill="#1f78e6"/>
<polygon points="1602.39,136.83 1606.39,144.03 1598.39,144.03" fill="#1f78e6"/>
<polygon points="1609.84,140.14 1613.84,147.34 1605.84,147.34" fill="#1f78e6"/>
<polygon points="1617.29,143.48 1621.29,150.68 1613.29,150.68" fill="#1f78e6"/>
<polygon points="1624.73,146.84 1628.73,154.04 1620.73,154.04" fill="#1f78e6"/>
<polygon points="1632.18,150.24 1636.18,157.44 1628.18,157.44" fill="#1f78e6"/>
<polygon points="1639.63,153.66 1643.63,160.86 1635.63,160.86" fill="#1f78e6"/>
<polygon points="1647.08,157.10 1651.08,164.30 1643.08,164.30" fill="#1f78e6"/>
<polygon points="1654.52,160.58 1658.52,167.78 1650.52,167.78" fill="#1f78e6"/>
<polygon points="1661.97,164.08 1665.97,171.28 1657.97,171.28" fill="#1f78e6"/>
<polygon points="1669.42,167.61 1673.42,174.81 1665.42,174.81" fill="#1f78e6"/>
<polygon points="1676.86,171.17 1680.86,178.37 1672.86,178.37" fill="#1f78e6"/>
<polygon points="1684.31,174.75 1688.31,181.95 1680.31,181.95" fill="#1f78e6"/>
<polygon points="1691.76,178.36 1695.76,185.56 1687.76,185.56" fill="#1f78e6"/>
<polygon points="1699.21,182.00 1703.21,189.20 1695.21,189.20" fill="#1f78e6"/>
<polygon points="1706.65,185.67 1710.65,192.87 1702.65,192.87" fill="#1f78e6"/>
<polygon points="1714.10,189.36 1718.10,196.56 1710.10,196.56" fill="#1f78e6"/>
<polygon points="1721.55,190.65 1725.55,197.85 1717.55,197.85" fill="#1f78e6"/>
<polygon points="1728.99,191.93 1732.99,199.13 1724.99,199.13" fill="#1f78e6"/>
<polygon points="1736.44,193.21 1740.44,200.41 1732.44,200.41" fill="#1f78e6"/>
<polygon points="1743.89,194.50 1747.89,201.70 1739.89,201.70" fill="#1f78e6"/>
<polygon points="1751.34,195.78 1755.34,202.98 1747.34,202.98" fill="#1f78e6"/>
<polygon points="1758.78,197.06 1762.78,204.26 1754.78,204.26" fill="#1f78e6"/>
<polygon points="1766.23,198.35 1770.23,205.55 1762.23,205.55" fill="#1f78e6"/>
<polygon points="1773.68,199.63 1777.68,206.83 1769.68,206.83" fill="#1f78e6"/>
<polygon points="1781.12,200.92 1785.12,208.12 1777.12,208.12" fill="#1f78e6"/>
<polygon points="1788.57,202.20 1792.57,209.40 1784.57,209.40" fill="#1f78e6"/>
<polygon points="1796.02,203.48 1800.02,210.68 1792.02,210.68" fill="#1f78e6"/>
<polygon points="1803.47,204.77 1807.47,211.97 1799.47,211.97" fill="#1f78e6"/>
<polygon points="1810.91,206.05 1814.91,213.25 1806.91,213.25" fill="#1f78e6"/>
<polygon points="1818.36,207.33 1822.36,214.53 1814.36,214.53" fill="#1f78e6"/>
<polygon points="1825.81,208.62 1829.81,215.82 1821.81,215.82" fill="#1f78e6"/>
<polygon points="1833.26,209.90 1837.26,217.10 1829.26,217.10" fill="#1f78e6"/>
<polygon points="1840.70,211.19 1844.70,218.39 1836.70,218.39" fill="#1f78e6"/>
<polygon points="1848.15,212.47 1852.15,219.67 1844.15,219.67" fill="#1f78e6"/>
<polygon points="1855.60,213.75 1859.60,220.95 1851.60,220.95" fill="#1f78e6"/>
<polygon points="1863.04,215.04 1867.04,222.24 1859.04,222.24" fill="#1f78e6"/>
<polygon points="1870.49,216.32 1874.49,223.52 1866.49,223.52" fill="#1f78e6"/>
<polygon points="1877.94,217.60 1881.94,224.80 1873.94,224.80" fill="#1f78e6"/>
<polygon points="1885.39,218.89 1889.39,226.09 1881.39,226.09" fill="#1f78e6"/>
<polygon points="1892.83,220.17 1896.83,227.37 1888.83,227.37" fill="#1f78e6"/>
<polygon points="1900.28,221.46 1904.28,228.66 1896.28,228.66" fill="#1f78e6"/>
<polygon points="1907.73,222.74 1911.73,229.94 1903.73,229.94" fill="#1f78e6"/>
<polygon points="1915.18,224.02 1919.18,231.22 1911.18,231.22" fill="#1f78e6"/>
<polygon points="1922.62,225.31 1926.62,232.51 1918.62,232.51" fill="#1f78e6"/>
<polygon points="1930.07,226.59 1934.07,233.79 1926.07,233.79" fill="#1f78e6"/>
<polygon points="1937.52,227.87 1941.52,235.07 1933.52,235.07" fill="#1f78e6"/>
<polygon points="1944.96,229.16 1948.96,236.36 1940.96,236.36" fill="#1f78e6"/>
<polygon points="1952.41,230.44 1956.41,237.64 1948.41,237.64" fill="#1f78e6"/>
<polygon points="1959.86,231.72 1963.86,238.92 1955.86,238.92" fill="#1f78e6"/>
<polygon points="1967.31,233.01 1971.31,240.21 1963.31,240.21" fill="#1f78e6"/>
<polygon points="1974.75,234.29 1978.75,241.49 1970.75,241.49" fill="#1f78e6"/>
<polygon points="1982.20,235.58 1986.20,242.78 1978.20,242.78" fill="#1f78e6"/>
<rect x="1793" y="478.1" width="154.8" height="4.9" fill="url(#cbar2)"/>
<text x="1769.8" y="501.7" font-size="19.2" font-weight="bold">35 <tspan font-size="13.5" dy="-6.5">o</tspan><tspan dy="6.5">C</tspan></text>
<text x="1916.5" y="504" font-size="19.2" font-weight="bold">17 <tspan font-size="13.5" dy="-6.5">o</tspan><tspan dy="6.5">C</tspan></text>
<clipPath id="ci1"><rect x="1765.3" y="326.8" width="100.40" height="71.50"/></clipPath><g clip-path="url(#ci1)"><rect x="1765.3" y="326.8" width="100.40" height="71.50" fill="#5ec8c8"/><ellipse cx="1815" cy="395" rx="47" ry="62" fill="#72dada" stroke="#48eef0" stroke-width="5" filter="url(#blur1)"/><rect x="1765" y="326.8" width="38" height="4" fill="#b07058"/><rect x="1835" y="326.8" width="31" height="3" fill="#a07060"/><g filter="url(#blur1)"><line x1="1782" y1="350" x2="1812" y2="396" stroke="#0a14c8" stroke-width="12"/><line x1="1793" y1="339" x2="1817" y2="394" stroke="#0a14c8" stroke-width="12"/><line x1="1838" y1="335" x2="1823" y2="396" stroke="#0a14c8" stroke-width="12"/><line x1="1859" y1="352" x2="1829" y2="396" stroke="#0a14c8" stroke-width="12"/></g><ellipse cx="1818" cy="396" rx="12" ry="14" fill="#20a8f0" filter="url(#blur2)"/><line x1="1786" y1="370" x2="1789" y2="385" stroke="#0a30d8" stroke-width="2.5"/></g>
<clipPath id="ci2"><rect x="1865.7" y="326.8" width="101.10" height="71.50"/></clipPath><g clip-path="url(#ci2)"><rect x="1865.7" y="326.8" width="101.10" height="71.50" fill="#708a8a"/><ellipse cx="1916" cy="400" rx="48" ry="64" fill="#6c8080" stroke="#40e4ec" stroke-width="5" filter="url(#blur1)"/><rect x="1935" y="326.8" width="32" height="16" fill="#30b0f0" filter="url(#blur1)"/><g filter="url(#blur1)"><line x1="1878" y1="345" x2="1905" y2="380" stroke="#c8642a" stroke-width="13"/><line x1="1889" y1="336" x2="1912" y2="372" stroke="#c8642a" stroke-width="13"/><line x1="1934" y1="336" x2="1918" y2="372" stroke="#c8642a" stroke-width="13"/><line x1="1956" y1="353" x2="1925" y2="382" stroke="#c8642a" stroke-width="13"/></g><path d="M1895,398 Q1916,362 1937,398 Z" fill="#40e0e8" filter="url(#blur1)"/><path d="M1905,398 Q1916,380 1927,398 Z" fill="#e06a18"/></g>
<clipPath id="ci3"><rect x="1764.1" y="403.3" width="101.60" height="67.20"/></clipPath><g clip-path="url(#ci3)"><rect x="1764.1" y="403.3" width="101.60" height="67.20" fill="#62a0a0"/><ellipse cx="1815" cy="470" rx="50" ry="62" fill="#6aa4a4" stroke="#50dcdc" stroke-width="4" filter="url(#blur1)"/><g filter="url(#blur1)"><line x1="1776" y1="425" x2="1802" y2="462" stroke="#1a5ae8" stroke-width="12"/><line x1="1788" y1="417" x2="1810" y2="458" stroke="#1a5ae8" stroke-width="12"/><line x1="1832" y1="418" x2="1820" y2="458" stroke="#1a5ae8" stroke-width="12"/><line x1="1858" y1="434" x2="1826" y2="464" stroke="#1a5ae8" stroke-width="12"/></g><ellipse cx="1814" cy="468" rx="18" ry="8" fill="#38d8f0" filter="url(#blur2)"/></g>
<clipPath id="ci4"><rect x="1865.7" y="403.3" width="101.10" height="67.20"/></clipPath><g clip-path="url(#ci4)"><rect x="1865.7" y="403.3" width="101.10" height="67.20" fill="#7a6858"/><ellipse cx="1916" cy="470" rx="50" ry="62" fill="#7a6a5e" stroke="#48d8e0" stroke-width="4" filter="url(#blur1)"/><g filter="url(#blur1)"><line x1="1876" y1="423" x2="1902" y2="460" stroke="#f0a020" stroke-width="13"/><line x1="1888" y1="413" x2="1910" y2="452" stroke="#f0a020" stroke-width="13"/><line x1="1933" y1="413" x2="1920" y2="452" stroke="#f0a020" stroke-width="13"/><line x1="1960" y1="433" x2="1928" y2="462" stroke="#f0a020" stroke-width="13"/></g><ellipse cx="1915" cy="468" rx="24" ry="14" fill="#ffd030" filter="url(#blur2)"/><line x1="1900" y1="440" x2="1930" y2="440" stroke="#fff080" stroke-width="6" filter="url(#blur2)"/></g>
<path d="M1468.34,351.66 L1490.68,373.40 L1513.03,375.00 L1535.37,376.28 L1557.71,377.87 L1580.05,379.47 L1602.39,377.87 L1624.73,382.35 L1647.08,382.35 L1669.42,385.23 L1691.76,385.55 L1714.10,381.71 L1736.44,513.44 L1758.78,523.67 L1781.12,535.18 L1803.47,532.63 L1825.81,528.79 L1848.15,523.67 L1870.49,526.87 L1892.83,524.95 L1915.18,517.92 L1937.52,519.84 L1959.86,524.63 L1982.20,522.39" fill="none" stroke="#3c3c38" stroke-width="2"/>
<circle cx="1468.84" cy="353.66" r="3.70" fill="#fff" stroke="#555" stroke-width="1"/>
<circle cx="1491.18" cy="375.40" r="3.70" fill="#fff" stroke="#555" stroke-width="1"/>
<circle cx="1513.53" cy="377.00" r="3.70" fill="#fff" stroke="#555" stroke-width="1"/>
<circle cx="1535.87" cy="378.28" r="3.70" fill="#fff" stroke="#555" stroke-width="1"/>
<circle cx="1558.21" cy="379.87" r="3.70" fill="#fff" stroke="#555" stroke-width="1"/>
<circle cx="1580.55" cy="381.47" r="3.70" fill="#fff" stroke="#555" stroke-width="1"/>
<circle cx="1602.89" cy="379.87" r="3.70" fill="#fff" stroke="#555" stroke-width="1"/>
<circle cx="1625.23" cy="384.35" r="3.70" fill="#fff" stroke="#555" stroke-width="1"/>
<circle cx="1647.58" cy="384.35" r="3.70" fill="#fff" stroke="#555" stroke-width="1"/>
<circle cx="1669.92" cy="387.23" r="3.70" fill="#fff" stroke="#555" stroke-width="1"/>
<circle cx="1692.26" cy="387.55" r="3.70" fill="#fff" stroke="#555" stroke-width="1"/>
<circle cx="1714.60" cy="383.71" r="3.70" fill="#fff" stroke="#555" stroke-width="1"/>
<circle cx="1736.94" cy="515.44" r="3.70" fill="#fff" stroke="#555" stroke-width="1"/>
<circle cx="1759.28" cy="525.67" r="3.70" fill="#fff" stroke="#555" stroke-width="1"/>
<circle cx="1781.62" cy="537.18" r="3.70" fill="#fff" stroke="#555" stroke-width="1"/>
<circle cx="1803.97" cy="534.63" r="3.70" fill="#fff" stroke="#555" stroke-width="1"/>
<circle cx="1826.31" cy="530.79" r="3.70" fill="#fff" stroke="#555" stroke-width="1"/>
<circle cx="1848.65" cy="525.67" r="3.70" fill="#fff" stroke="#555" stroke-width="1"/>
<circle cx="1870.99" cy="528.87" r="3.70" fill="#fff" stroke="#555" stroke-width="1"/>
<circle cx="1893.33" cy="526.95" r="3.70" fill="#fff" stroke="#555" stroke-width="1"/>
<circle cx="1915.68" cy="519.92" r="3.70" fill="#fff" stroke="#555" stroke-width="1"/>
<circle cx="1938.02" cy="521.84" r="3.70" fill="#fff" stroke="#555" stroke-width="1"/>
<circle cx="1960.36" cy="526.63" r="3.70" fill="#fff" stroke="#555" stroke-width="1"/>
<circle cx="1982.70" cy="524.39" r="3.70" fill="#fff" stroke="#555" stroke-width="1"/>
<circle cx="1468.34" cy="351.06" r="3.70" fill="#fff" stroke="#555" stroke-width="1"/><path d="M1464.14,351.06 A4.2,4.2 0 0 1 1472.54,351.06 Z" fill="#3c3c38"/>
<circle cx="1490.68" cy="372.80" r="3.70" fill="#fff" stroke="#555" stroke-width="1"/><path d="M1486.48,372.80 A4.2,4.2 0 0 1 1494.88,372.80 Z" fill="#3c3c38"/>
<circle cx="1513.03" cy="374.40" r="3.70" fill="#fff" stroke="#555" stroke-width="1"/><path d="M1508.83,374.40 A4.2,4.2 0 0 1 1517.23,374.40 Z" fill="#3c3c38"/>
<circle cx="1535.37" cy="375.68" r="3.70" fill="#fff" stroke="#555" stroke-width="1"/><path d="M1531.17,375.68 A4.2,4.2 0 0 1 1539.57,375.68 Z" fill="#3c3c38"/>
<circle cx="1557.71" cy="377.27" r="3.70" fill="#fff" stroke="#555" stroke-width="1"/><path d="M1553.51,377.27 A4.2,4.2 0 0 1 1561.91,377.27 Z" fill="#3c3c38"/>
<circle cx="1580.05" cy="378.87" r="3.70" fill="#fff" stroke="#555" stroke-width="1"/><path d="M1575.85,378.87 A4.2,4.2 0 0 1 1584.25,378.87 Z" fill="#3c3c38"/>
<circle cx="1602.39" cy="377.27" r="3.70" fill="#fff" stroke="#555" stroke-width="1"/><path d="M1598.19,377.27 A4.2,4.2 0 0 1 1606.59,377.27 Z" fill="#3c3c38"/>
<circle cx="1624.73" cy="381.75" r="3.70" fill="#fff" stroke="#555" stroke-width="1"/><path d="M1620.53,381.75 A4.2,4.2 0 0 1 1628.93,381.75 Z" fill="#3c3c38"/>
<circle cx="1647.08" cy="381.75" r="3.70" fill="#fff" stroke="#555" stroke-width="1"/><path d="M1642.88,381.75 A4.2,4.2 0 0 1 1651.28,381.75 Z" fill="#3c3c38"/>
<circle cx="1669.42" cy="384.63" r="3.70" fill="#fff" stroke="#555" stroke-width="1"/><path d="M1665.22,384.63 A4.2,4.2 0 0 1 1673.62,384.63 Z" fill="#3c3c38"/>
<circle cx="1691.76" cy="384.95" r="3.70" fill="#fff" stroke="#555" stroke-width="1"/><path d="M1687.56,384.95 A4.2,4.2 0 0 1 1695.96,384.95 Z" fill="#3c3c38"/>
<circle cx="1714.10" cy="381.11" r="3.70" fill="#fff" stroke="#555" stroke-width="1"/><path d="M1709.90,381.11 A4.2,4.2 0 0 1 1718.30,381.11 Z" fill="#3c3c38"/>
<circle cx="1736.44" cy="512.84" r="3.70" fill="#fff" stroke="#555" stroke-width="1"/><path d="M1732.24,512.84 A4.2,4.2 0 0 1 1740.64,512.84 Z" fill="#3c3c38"/>
<circle cx="1758.78" cy="523.07" r="3.70" fill="#fff" stroke="#555" stroke-width="1"/><path d="M1754.58,523.07 A4.2,4.2 0 0 1 1762.98,523.07 Z" fill="#3c3c38"/>
<circle cx="1781.12" cy="534.58" r="3.70" fill="#fff" stroke="#555" stroke-width="1"/><path d="M1776.92,534.58 A4.2,4.2 0 0 1 1785.33,534.58 Z" fill="#3c3c38"/>
<circle cx="1803.47" cy="532.03" r="3.70" fill="#fff" stroke="#555" stroke-width="1"/><path d="M1799.27,532.03 A4.2,4.2 0 0 1 1807.67,532.03 Z" fill="#3c3c38"/>
<circle cx="1825.81" cy="528.19" r="3.70" fill="#fff" stroke="#555" stroke-width="1"/><path d="M1821.61,528.19 A4.2,4.2 0 0 1 1830.01,528.19 Z" fill="#3c3c38"/>
<circle cx="1848.15" cy="523.07" r="3.70" fill="#fff" stroke="#555" stroke-width="1"/><path d="M1843.95,523.07 A4.2,4.2 0 0 1 1852.35,523.07 Z" fill="#3c3c38"/>
<circle cx="1870.49" cy="526.27" r="3.70" fill="#fff" stroke="#555" stroke-width="1"/><path d="M1866.29,526.27 A4.2,4.2 0 0 1 1874.69,526.27 Z" fill="#3c3c38"/>
<circle cx="1892.83" cy="524.35" r="3.70" fill="#fff" stroke="#555" stroke-width="1"/><path d="M1888.63,524.35 A4.2,4.2 0 0 1 1897.03,524.35 Z" fill="#3c3c38"/>
<circle cx="1915.18" cy="517.32" r="3.70" fill="#fff" stroke="#555" stroke-width="1"/><path d="M1910.98,517.32 A4.2,4.2 0 0 1 1919.38,517.32 Z" fill="#3c3c38"/>
<circle cx="1937.52" cy="519.24" r="3.70" fill="#fff" stroke="#555" stroke-width="1"/><path d="M1933.32,519.24 A4.2,4.2 0 0 1 1941.72,519.24 Z" fill="#3c3c38"/>
<circle cx="1959.86" cy="524.03" r="3.70" fill="#fff" stroke="#555" stroke-width="1"/><path d="M1955.66,524.03 A4.2,4.2 0 0 1 1964.06,524.03 Z" fill="#3c3c38"/>
<circle cx="1982.20" cy="521.79" r="3.70" fill="#fff" stroke="#555" stroke-width="1"/><path d="M1978.00,521.79 A4.2,4.2 0 0 1 1986.40,521.79 Z" fill="#3c3c38"/>
<path d="M1468.34,450.45 L1490.68,453.65 L1513.03,451.41 L1535.37,454.93 L1557.71,453.65 L1580.05,447.26 L1602.39,445.66 L1624.73,427.11 L1647.08,444.70 L1669.42,432.23 L1691.76,443.10 L1714.10,450.13 L1736.44,515.04 L1758.78,509.60 L1781.12,508.65 L1803.47,516.64 L1825.81,522.39 L1848.15,519.20 L1870.49,515.04 L1892.83,511.84 L1915.18,515.04 L1937.52,517.28 L1959.86,520.48 L1982.20,527.83" fill="none" stroke="#1f78e6" stroke-width="2.2"/>
<polygon points="1468.84,447.79 1473.34,455.89 1464.34,455.89" fill="#fff" fill-opacity="0.6" stroke="#7ab4f0" stroke-width="1.1"/>
<polygon points="1491.18,450.99 1495.68,459.09 1486.68,459.09" fill="#fff" fill-opacity="0.6" stroke="#7ab4f0" stroke-width="1.1"/>
<polygon points="1513.53,448.75 1518.03,456.85 1509.03,456.85" fill="#fff" fill-opacity="0.6" stroke="#7ab4f0" stroke-width="1.1"/>
<polygon points="1535.87,452.27 1540.37,460.37 1531.37,460.37" fill="#fff" fill-opacity="0.6" stroke="#7ab4f0" stroke-width="1.1"/>
<polygon points="1558.21,450.99 1562.71,459.09 1553.71,459.09" fill="#fff" fill-opacity="0.6" stroke="#7ab4f0" stroke-width="1.1"/>
<polygon points="1580.55,444.60 1585.05,452.70 1576.05,452.70" fill="#fff" fill-opacity="0.6" stroke="#7ab4f0" stroke-width="1.1"/>
<polygon points="1602.89,443.00 1607.39,451.10 1598.39,451.10" fill="#fff" fill-opacity="0.6" stroke="#7ab4f0" stroke-width="1.1"/>
<polygon points="1625.23,424.45 1629.73,432.55 1620.73,432.55" fill="#fff" fill-opacity="0.6" stroke="#7ab4f0" stroke-width="1.1"/>
<polygon points="1647.58,442.04 1652.08,450.14 1643.08,450.14" fill="#fff" fill-opacity="0.6" stroke="#7ab4f0" stroke-width="1.1"/>
<polygon points="1669.92,429.57 1674.42,437.67 1665.42,437.67" fill="#fff" fill-opacity="0.6" stroke="#7ab4f0" stroke-width="1.1"/>
<polygon points="1692.26,440.44 1696.76,448.54 1687.76,448.54" fill="#fff" fill-opacity="0.6" stroke="#7ab4f0" stroke-width="1.1"/>
<polygon points="1714.60,447.47 1719.10,455.57 1710.10,455.57" fill="#fff" fill-opacity="0.6" stroke="#7ab4f0" stroke-width="1.1"/>
<polygon points="1736.94,512.38 1741.44,520.48 1732.44,520.48" fill="#fff" fill-opacity="0.6" stroke="#7ab4f0" stroke-width="1.1"/>
<polygon points="1759.28,506.94 1763.78,515.04 1754.78,515.04" fill="#fff" fill-opacity="0.6" stroke="#7ab4f0" stroke-width="1.1"/>
<polygon points="1781.62,505.99 1786.12,514.09 1777.12,514.09" fill="#fff" fill-opacity="0.6" stroke="#7ab4f0" stroke-width="1.1"/>
<polygon points="1803.97,513.98 1808.47,522.08 1799.47,522.08" fill="#fff" fill-opacity="0.6" stroke="#7ab4f0" stroke-width="1.1"/>
<polygon points="1826.31,519.73 1830.81,527.83 1821.81,527.83" fill="#fff" fill-opacity="0.6" stroke="#7ab4f0" stroke-width="1.1"/>
<polygon points="1848.65,516.54 1853.15,524.64 1844.15,524.64" fill="#fff" fill-opacity="0.6" stroke="#7ab4f0" stroke-width="1.1"/>
<polygon points="1870.99,512.38 1875.49,520.48 1866.49,520.48" fill="#fff" fill-opacity="0.6" stroke="#7ab4f0" stroke-width="1.1"/>
<polygon points="1893.33,509.18 1897.83,517.28 1888.83,517.28" fill="#fff" fill-opacity="0.6" stroke="#7ab4f0" stroke-width="1.1"/>
<polygon points="1915.68,512.38 1920.18,520.48 1911.18,520.48" fill="#fff" fill-opacity="0.6" stroke="#7ab4f0" stroke-width="1.1"/>
<polygon points="1938.02,514.62 1942.52,522.72 1933.52,522.72" fill="#fff" fill-opacity="0.6" stroke="#7ab4f0" stroke-width="1.1"/>
<polygon points="1960.36,517.82 1964.86,525.92 1955.86,525.92" fill="#fff" fill-opacity="0.6" stroke="#7ab4f0" stroke-width="1.1"/>
<polygon points="1982.70,525.17 1987.20,533.27 1978.20,533.27" fill="#fff" fill-opacity="0.6" stroke="#7ab4f0" stroke-width="1.1"/>
<polygon points="1468.34,445.01 1472.64,452.75 1464.04,452.75" fill="#1f78e6"/>
<polygon points="1490.68,448.21 1494.98,455.95 1486.38,455.95" fill="#1f78e6"/>
<polygon points="1513.03,445.97 1517.33,453.71 1508.73,453.71" fill="#1f78e6"/>
<polygon points="1535.37,449.49 1539.67,457.23 1531.07,457.23" fill="#1f78e6"/>
<polygon points="1557.71,448.21 1562.01,455.95 1553.41,455.95" fill="#1f78e6"/>
<polygon points="1580.05,441.81 1584.35,449.55 1575.75,449.55" fill="#1f78e6"/>
<polygon points="1602.39,440.21 1606.69,447.95 1598.09,447.95" fill="#1f78e6"/>
<polygon points="1624.73,421.67 1629.03,429.41 1620.43,429.41" fill="#1f78e6"/>
<polygon points="1647.08,439.25 1651.38,446.99 1642.78,446.99" fill="#1f78e6"/>
<polygon points="1669.42,426.79 1673.72,434.53 1665.12,434.53" fill="#1f78e6"/>
<polygon points="1691.76,437.66 1696.06,445.40 1687.46,445.40" fill="#1f78e6"/>
<polygon points="1714.10,444.69 1718.40,452.43 1709.80,452.43" fill="#1f78e6"/>
<polygon points="1736.44,509.60 1740.74,517.34 1732.14,517.34" fill="#1f78e6"/>
<polygon points="1758.78,504.16 1763.08,511.90 1754.48,511.90" fill="#1f78e6"/>
<polygon points="1781.12,503.20 1785.42,510.94 1776.83,510.94" fill="#1f78e6"/>
<polygon points="1803.47,511.19 1807.77,518.93 1799.17,518.93" fill="#1f78e6"/>
<polygon points="1825.81,516.95 1830.11,524.69 1821.51,524.69" fill="#1f78e6"/>
<polygon points="1848.15,513.75 1852.45,521.49 1843.85,521.49" fill="#1f78e6"/>
<polygon points="1870.49,509.60 1874.79,517.34 1866.19,517.34" fill="#1f78e6"/>
<polygon points="1892.83,506.40 1897.13,514.14 1888.53,514.14" fill="#1f78e6"/>
<polygon points="1915.18,509.60 1919.48,517.34 1910.88,517.34" fill="#1f78e6"/>
<polygon points="1937.52,511.83 1941.82,519.57 1933.22,519.57" fill="#1f78e6"/>
<polygon points="1959.86,515.03 1964.16,522.77 1955.56,522.77" fill="#1f78e6"/>
<polygon points="1982.20,522.39 1986.50,530.13 1977.90,530.13" fill="#1f78e6"/>
<rect x="1446.0" y="77.9" width="536.20" height="485.10" fill="none" stroke="#2e2b22" stroke-width="2.6"/>
<line x1="1446.0" y1="323.2" x2="1982.2" y2="323.2" stroke="#2e2b22" stroke-width="2.6"/>
<path d="M1446.00,563.0 v6 M1446.00,323.2 v6 M1468.34,563.0 v3.3 M1468.34,323.2 v3.3 M1490.68,563.0 v6 M1490.68,323.2 v6 M1513.03,563.0 v3.3 M1513.03,323.2 v3.3 M1535.37,563.0 v6 M1535.37,323.2 v6 M1557.71,563.0 v3.3 M1557.71,323.2 v3.3 M1580.05,563.0 v6 M1580.05,323.2 v6 M1602.39,563.0 v3.3 M1602.39,323.2 v3.3 M1624.73,563.0 v6 M1624.73,323.2 v6 M1647.08,563.0 v3.3 M1647.08,323.2 v3.3 M1669.42,563.0 v6 M1669.42,323.2 v6 M1691.76,563.0 v3.3 M1691.76,323.2 v3.3 M1714.10,563.0 v6 M1714.10,323.2 v6 M1736.44,563.0 v3.3 M1736.44,323.2 v3.3 M1758.78,563.0 v6 M1758.78,323.2 v6 M1781.12,563.0 v3.3 M1781.12,323.2 v3.3 M1803.47,563.0 v6 M1803.47,323.2 v6 M1825.81,563.0 v3.3 M1825.81,323.2 v3.3 M1848.15,563.0 v6 M1848.15,323.2 v6 M1870.49,563.0 v3.3 M1870.49,323.2 v3.3 M1892.83,563.0 v6 M1892.83,323.2 v6 M1915.18,563.0 v3.3 M1915.18,323.2 v3.3 M1937.52,563.0 v6 M1937.52,323.2 v6 M1959.86,563.0 v3.3 M1959.86,323.2 v3.3 M1982.20,563.0 v6 M1982.20,323.2 v6 M1446.0,77.90 h-6.2 M1446.0,105.16 h-3.6 M1446.0,132.41 h-6.2 M1446.0,159.67 h-3.6 M1446.0,186.92 h-6.2 M1446.0,214.18 h-3.6 M1446.0,241.43 h-6.2 M1446.0,268.69 h-3.6 M1446.0,295.94 h-6.2 M1446.0,323.20 h-3.6 M1446.0,563.00 h-6.8 M1446.0,531.03 h-3.6 M1446.0,499.05 h-6.8 M1446.0,467.08 h-3.6 M1446.0,435.11 h-6.8 M1446.0,403.13 h-3.6 M1446.0,371.16 h-6.8 M1446.0,339.19 h-3.6" stroke="#2e2b22" stroke-width="2" fill="none"/>
<text x="1446.00" y="586.40" font-size="19.00" font-weight="bold" fill="#000" text-anchor="middle" >0</text>
<text x="1490.68" y="586.40" font-size="19.00" font-weight="bold" fill="#000" text-anchor="middle" >2</text>
<text x="1535.37" y="586.40" font-size="19.00" font-weight="bold" fill="#000" text-anchor="middle" >4</text>
<text x="1580.05" y="586.40" font-size="19.00" font-weight="bold" fill="#000" text-anchor="middle" >6</text>
<text x="1624.73" y="586.40" font-size="19.00" font-weight="bold" fill="#000" text-anchor="middle" >8</text>
<text x="1669.42" y="586.40" font-size="19.00" font-weight="bold" fill="#000" text-anchor="middle" >10</text>
<text x="1714.10" y="586.40" font-size="19.00" font-weight="bold" fill="#000" text-anchor="middle" >12</text>
<text x="1758.78" y="586.40" font-size="19.00" font-weight="bold" fill="#000" text-anchor="middle" >14</text>
<text x="1803.47" y="586.40" font-size="19.00" font-weight="bold" fill="#000" text-anchor="middle" >16</text>
<text x="1848.15" y="586.40" font-size="19.00" font-weight="bold" fill="#000" text-anchor="middle" >18</text>
<text x="1892.83" y="586.40" font-size="19.00" font-weight="bold" fill="#000" text-anchor="middle" >20</text>
<text x="1937.52" y="586.40" font-size="19.00" font-weight="bold" fill="#000" text-anchor="middle" >22</text>
<text x="1982.20" y="586.40" font-size="19.00" font-weight="bold" fill="#000" text-anchor="middle" >24</text>
<text x="1436.30" y="82.10" font-size="16.00" font-weight="bold" fill="#000" text-anchor="end" >0</text>
<text x="1436.30" y="136.61" font-size="16.00" font-weight="bold" fill="#000" text-anchor="end" >-2</text>
<text x="1436.30" y="191.12" font-size="16.00" font-weight="bold" fill="#000" text-anchor="end" >-4</text>
<text x="1436.30" y="245.63" font-size="16.00" font-weight="bold" fill="#000" text-anchor="end" >-6</text>
<text x="1436.30" y="300.14" font-size="16.00" font-weight="bold" fill="#000" text-anchor="end" >-8</text>
<text x="1436.10" y="567.60" font-size="17.50" font-weight="bold" fill="#000" text-anchor="end" >0.0</text>
<text x="1436.10" y="503.65" font-size="17.50" font-weight="bold" fill="#000" text-anchor="end" >0.2</text>
<text x="1436.10" y="439.71" font-size="17.50" font-weight="bold" fill="#000" text-anchor="end" >0.4</text>
<text x="1436.10" y="375.76" font-size="17.50" font-weight="bold" fill="#000" text-anchor="end" >0.6</text>
<text x="1660.22" y="617.80" font-size="28.34" font-weight="bold" fill="#000" >Time (h)</text>
<text x="0" y="0" font-size="19.6" font-weight="bold" text-anchor="middle" transform="translate(1405 189) rotate(-90)">Mass Change (kg m<tspan font-size="14" dy="-6.5">-2</tspan><tspan dy="6.5">)</tspan></text>
<text x="0" y="0" font-size="18" font-weight="bold" text-anchor="middle" transform="translate(1401.2 437) rotate(-90)">Evaporation Flux (kg m<tspan font-size="12.5" dy="-6">-2</tspan><tspan dy="6"> h</tspan><tspan font-size="12.5" dy="-6">-1</tspan><tspan dy="6">)</tspan></text>
<text x="1609.08" y="111.60" font-size="23.32" font-weight="bold" fill="#c59b17" >Daytime</text>
<text x="1720.97" y="111.60" font-size="23.53" font-weight="bold" fill="#404040" >Nighttime</text>
<line x1="1839.8" y1="100.2" x2="1876.9" y2="100.2" stroke="#1f78e6" stroke-width="2.2"/>
<polygon points="1859.20,96.48 1865.70,108.18 1852.70,108.18" fill="#fff" fill-opacity="0.6" stroke="#7ab4f0" stroke-width="1.1"/>
<polygon points="1859.20,90.02 1865.20,100.82 1853.20,100.82" fill="#1f78e6"/>
<line x1="1839.8" y1="120.4" x2="1876.9" y2="120.4" stroke="#555" stroke-width="2.2"/>
<circle cx="1859.20" cy="122.00" r="5.50" fill="#fff" stroke="#555" stroke-width="1"/>
<path d="M1853.20,119.50 A6.0,6.0 0 0 1 1865.20,119.50 Z" fill="#3c3c38"/>
<text x="1882.06" y="105.80" font-size="16.00" font-weight="bold" fill="#333" >Long Stem</text>
<text x="1882.62" y="125.80" font-size="15.86" font-weight="bold" fill="#333" >Short Stem</text>
<text x="1401.24" y="618.97" font-size="35.22" font-weight="bold" fill="#000" >(f)</text>
<rect x="1386.3" y="653.3" width="581.1000000000001" height="493.4000000000001" rx="25" ry="25" fill="none" stroke="#767171" stroke-width="4.5" stroke-dasharray="5 5"/>
<text x="1625.71" y="683.70" font-size="23.54" font-weight="bold" fill="#c55a11" >3.5 wt%</text>
<text x="1783.33" y="683.70" font-size="24.19" font-weight="bold" fill="#c55a11" >7 wt%</text>
<text x="1440.07" y="797.20" font-size="23.61" font-weight="bold" fill="#000" >Long stem</text>
<text x="1452.10" y="1022.70" font-size="23.33" font-weight="bold" fill="#000" >Short stem</text>
<clipPath id="fp1"><rect x="1578.4" y="698.9" width="158" height="186.7"/></clipPath><g clip-path="url(#fp1)">
<rect x="1578.4" y="698.9" width="158" height="186.7" fill="#332e29"/>
<rect x="1664" y="695" width="80" height="92" fill="#555a64" filter="url(#blur4)"/>
<rect x="1700" y="695" width="40" height="20" fill="#3a3e46" filter="url(#blur4)"/>
<path d="M1578.4,801 Q1620,788 1662,790 Q1700,792 1736.4,802 L1736.4,885.6 L1578.4,885.6 Z" fill="url(#foamf)"/>
<path d="M1578.4,801 Q1620,788 1662,790 Q1700,792 1736.4,802 L1736.4,885.6 L1578.4,885.6 Z" fill="#cfcfcf" filter="url(#noise2)" opacity="0.45"/>
<path d="M1665,835 Q1700,850 1736,860 L1736,885 L1660,885 Z" fill="#8c8882" opacity="0.45" filter="url(#blur4)"/>
<polygon points="1596,716 1629,716 1631,847 1594,848" fill="#15151a"/>
<path d="M1597.5,716 L1598.5,752 M1629.5,716 L1630.5,745" stroke="#d8d0c6" stroke-width="5"/>
<path d="M1596,716.5 H1630" stroke="#d8d0c6" stroke-width="2.5"/>
<polygon points="1631,765 1648,717 1676,720 1660,762 1659,800 1631,800" fill="#17171c"/>
<path d="M1632,750 L1649,718 M1676,720 L1661,758" stroke="#d6cec4" stroke-width="5.5"/>
<polygon points="1634,800 1659,782 1659,870 1640,880 1634,878" fill="#111116"/>
<polygon points="1638,784 1724,737 1729,745 1643,804" fill="#d2cac0"/>
<path d="M1668,768 L1722,740" stroke="#1e1e22" stroke-width="2.5"/>
<path d="M1729,735 Q1720,770 1716,800" stroke="#5a3030" stroke-width="0.8" fill="none"/>
</g>
<clipPath id="fp2"><rect x="1783" y="698.9" width="158.6" height="186.7"/></clipPath><g clip-path="url(#fp2)">
<rect x="1783" y="698.9" width="158.6" height="186.7" fill="#2b2b2d"/>
<rect x="1786" y="700" width="70" height="22" fill="#4c4c4c" filter="url(#blur4)"/>
<rect x="1792" y="765" width="38" height="45" fill="#343c58" filter="url(#blur4)"/>
<rect x="1900" y="760" width="40" height="40" fill="#242426" filter="url(#blur4)"/>
<path d="M1783,832 Q1840,815 1894,804 L1941.6,802 L1941.6,885.6 L1783,885.6 Z" fill="#dcdcdc"/>
<path d="M1783,832 Q1840,815 1894,804 L1941.6,802 L1941.6,885.6 L1783,885.6 Z" fill="#d8d8d8" filter="url(#noise2)" opacity="0.4"/>
<path d="M1791,735 Q1812,730 1825,730 Q1842,760 1848,800 L1850,867 L1838,868 Q1834,800 1822,770 Q1808,748 1791,735 Z" fill="#889ec6"/>
<path d="M1826,728 Q1840,718 1850,718 Q1860,745 1864,790 L1870,870 L1850,872 Q1850,800 1842,760 Q1836,740 1826,728 Z" fill="#7b90b8"/>
<path d="M1866,775 Q1880,742 1905,725 L1936,718 Q1915,738 1902,762 Q1893,800 1894,875 L1873,872 Q1870,810 1866,775 Z" fill="#5a6a88"/>
<path d="M1791,735 Q1808,728 1825,730 L1830,742 Q1812,738 1800,744 Z" fill="#eeeef0"/>
<path d="M1826,728 Q1840,718 1850,718 L1855,734 Q1844,730 1834,740 Z" fill="#eeeef0"/>
<path d="M1885,738 Q1905,722 1936,718 Q1925,728 1915,740 Q1900,745 1890,752 Z" fill="#e8e8ec"/>
</g>
<clipPath id="fp3"><rect x="1578.4" y="912.4" width="158.0" height="229.6"/></clipPath><g clip-path="url(#fp3)">
<rect x="1578.4" y="912.4" width="158.0" height="229.6" fill="url(#vign)"/>
<rect x="1578.4" y="912.4" width="158.0" height="229.6" fill="#e0e0e0" filter="url(#noise)" opacity="0.3"/>
<polygon points="1623,976 1668,936 1686,951 1658,978 1694,964 1710,979 1664,1017 1646,994" fill="#f4f4f4" stroke="#f4f4f4" stroke-width="9" stroke-linejoin="round" filter="url(#blur1)"/>
<polygon points="1609,1049 1641,1039 1670,1109 1647,1127" fill="#f4f4f4" stroke="#f4f4f4" stroke-width="9" stroke-linejoin="round" filter="url(#blur1)"/>
<polygon points="1644,1038 1666,1018 1710,1071 1690,1098" fill="#f4f4f4" stroke="#f4f4f4" stroke-width="9" stroke-linejoin="round" filter="url(#blur1)"/>
<polygon points="1623,976 1668,936 1686,951 1658,978 1694,964 1710,979 1664,1017 1646,994" fill="url(#bstripe)"/>
<polygon points="1609,1049 1641,1039 1670,1109 1647,1127" fill="url(#bstripe)"/>
<polygon points="1644,1038 1666,1018 1710,1071 1690,1098" fill="url(#bstripe)"/>
<line x1="1656" y1="988" x2="1690" y2="966" stroke="#f2f2f2" stroke-width="2.5"/>
</g>
<clipPath id="fp4"><rect x="1783" y="912.4" width="159.0" height="229.6"/></clipPath><g clip-path="url(#fp4)">
<rect x="1783" y="912.4" width="159.0" height="229.6" fill="url(#vign)"/>
<rect x="1783" y="912.4" width="159.0" height="229.6" fill="#e0e0e0" filter="url(#noise)" opacity="0.3"/>
<polygon points="1809,980 1854,940 1872,955 1844,982 1880,968 1896,983 1850,1021 1832,998" fill="#f4f4f4" stroke="#f4f4f4" stroke-width="9" stroke-linejoin="round" filter="url(#blur1)"/>
<polygon points="1807,1058 1837,1043 1874,1130 1852,1136" fill="#f4f4f4" stroke="#f4f4f4" stroke-width="9" stroke-linejoin="round" filter="url(#blur1)"/>
<polygon points="1837,1042 1860,1018 1908,1072 1898,1092" fill="#f4f4f4" stroke="#f4f4f4" stroke-width="9" stroke-linejoin="round" filter="url(#blur1)"/>
<polygon points="1809,980 1854,940 1872,955 1844,982 1880,968 1896,983 1850,1021 1832,998" fill="url(#bstripe)"/>
<polygon points="1807,1058 1837,1043 1874,1130 1852,1136" fill="url(#bstripe)"/>
<polygon points="1837,1042 1860,1018 1908,1072 1898,1092" fill="url(#bstripe)"/>
<line x1="1842" y1="992" x2="1876" y2="970" stroke="#f2f2f2" stroke-width="2.5"/>
</g>
</svg>
</body></html>
